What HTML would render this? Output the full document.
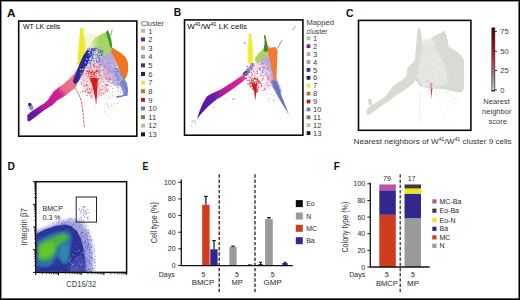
<!DOCTYPE html>
<html><head><meta charset="utf-8">
<style>
html,body{margin:0;padding:0;background:#fff;}
body{width:520px;height:300px;overflow:hidden;position:relative;}
svg{position:absolute;left:0;top:0;display:block;}
text{font-family:"Liberation Sans",sans-serif;}
.pl{font-weight:bold;font-size:11px;fill:#111;}
.t7{font-size:7px;fill:#222;stroke:#222;stroke-width:0.06px;}
.lg{font-size:7.6px;fill:#3a3a3a;}
.ax{font-size:7px;fill:#333;stroke:#333;stroke-width:0.05px;}
</style></head>
<body>
<svg width="520" height="300" viewBox="0 0 520 300">
<defs>
<filter id="bl1" x="-20%" y="-20%" width="140%" height="140%"><feGaussianBlur stdDeviation="0.6"/></filter>
<filter id="bl2" x="-20%" y="-20%" width="140%" height="140%"><feGaussianBlur stdDeviation="1.2"/></filter>
<filter id="bl3" x="-20%" y="-20%" width="140%" height="140%"><feGaussianBlur stdDeviation="2"/></filter>
<linearGradient id="cbar" x1="0" y1="0" x2="0" y2="1">
<stop offset="0" stop-color="#3a0008"/><stop offset="0.12" stop-color="#700010"/><stop offset="0.35" stop-color="#c01028"/><stop offset="0.55" stop-color="#c8406a"/><stop offset="0.75" stop-color="#a88a9c"/><stop offset="1" stop-color="#dcdcdc"/>
</linearGradient>
<linearGradient id="bandA" gradientUnits="userSpaceOnUse" x1="27" y1="121" x2="80" y2="72">
<stop offset="0" stop-color="#581a9c"/><stop offset="0.17" stop-color="#661ea6"/><stop offset="0.3" stop-color="#b01ea0"/><stop offset="0.5" stop-color="#cc1a98"/><stop offset="0.6" stop-color="#d42890"/><stop offset="0.67" stop-color="#ec6a86"/><stop offset="1" stop-color="#f07c8c"/>
</linearGradient>
<linearGradient id="bandB" gradientUnits="userSpaceOnUse" x1="198" y1="118" x2="246" y2="76">
<stop offset="0" stop-color="#52189c"/><stop offset="0.3" stop-color="#5a1aa4"/><stop offset="0.42" stop-color="#6a1ca6"/><stop offset="0.55" stop-color="#b21e9e"/><stop offset="0.7" stop-color="#c81e9a"/><stop offset="0.9" stop-color="#d02a98"/><stop offset="1" stop-color="#e06a98"/>
</linearGradient>
<linearGradient id="lgA" gradientUnits="userSpaceOnUse" x1="88" y1="0" x2="99" y2="0">
<stop offset="0" stop-color="#eef6d8"/><stop offset="0.5" stop-color="#c8e698"/><stop offset="1" stop-color="#a6d65e"/>
</linearGradient>
<linearGradient id="yelA" gradientUnits="userSpaceOnUse" x1="80" y1="0" x2="87" y2="0">
<stop offset="0" stop-color="#ecea24"/><stop offset="0.55" stop-color="#eeec30"/><stop offset="1" stop-color="#f4f4a8"/>
</linearGradient>
</defs>
<rect x="0" y="0" width="520" height="300" fill="#fff"/>

<text x="7" y="16.6" class="pl" textLength="8.5" lengthAdjust="spacingAndGlyphs">A</text>
<g id="Ascat">
<g filter="url(#bl1)">
<polygon points="83,33 96,34 100,44 98,56 90,58 84,50" fill="#f2f6dc" filter="url(#bl2)"/>
<polygon points="80.2,28 83.2,28 84.6,38 86.2,48 86,54 83,60 79,66 77.2,64 78.6,48" fill="url(#yelA)"/>
<polygon points="88,48 92,42 95,37.5 100,35 104,33 107,32 110,40 112,47 110,53 106,58 100,60 96,56 90,52" fill="url(#lgA)"/>
<polygon points="105.8,32 107.6,30 109.6,34 111.4,40 112.2,47 110.6,48.5 108.6,41" fill="#3e9a2e"/>
<polygon points="98,58 106,55 111,51 114,58 117,66 120,73 124,80 124,87 116,86 108,82 100,76 95,66" fill="#b8a6de"/>
<polygon points="114,68 118,68 123,76 127,83 128.2,90 127.5,96 124,96 122,90 119,83 115.5,76" fill="#8490d4"/>
<polygon points="111.5,47 116,50 121,53 125.5,57 127.8,62 128.2,70 127,76 124.5,79.5 121.5,75 118.5,68 115.5,61 111,52" fill="#f07424"/>
<polygon points="27.2,115.3 30.7,111.9 35,109.3 39.3,106.2 44.5,103.2 48,99.7 54,91 59,87 63,84.5 68,80 73,75 78,68 82,63 84,66 80,76 76,87 70,92 64,96.5 57,100.5 52,105.4 49.8,106.7 44.5,110.1 39.3,114 34.1,118 29.8,121 27.6,121.5" fill="url(#bandA)"/>
<polygon points="28,103.5 31,103 33.5,107 33,110.5 30,110 28.5,107" fill="#9a8cc0"/>
<polygon points="87,50 91,48.5 96,48.5 94,53 90,59 86.5,67 82.5,75 78.5,81.5 75,84.5 72.8,81 76,73 79.5,64 83,56" fill="#2a2a9e"/>
</g>
<path d="M28 103.2 L31 103 L31.5 105.5 L28.6 106 Z" fill="#3a2478"/>
<line x1="110.6" y1="36" x2="112.2" y2="29.5" stroke="#909a88" stroke-width="0.9"/>
<polygon points="92,48.5 100,47.5 104,53 100,60 92,70 86,74 88,62" fill="#8a8ad0" opacity="0.5" filter="url(#bl1)"/>
<circle cx="90.8" cy="51.4" r="0.55" fill="#2c2c9c"/>
<circle cx="85.5" cy="62.5" r="0.55" fill="#ffffff"/>
<circle cx="88.5" cy="49.5" r="0.55" fill="#ffffff"/>
<circle cx="96.1" cy="58.5" r="0.55" fill="#4848b0"/>
<circle cx="85.0" cy="71.9" r="0.55" fill="#ffffff"/>
<circle cx="92.8" cy="62.7" r="0.55" fill="#9090d0"/>
<circle cx="90.5" cy="70.7" r="0.55" fill="#4848b0"/>
<circle cx="86.2" cy="63.6" r="0.55" fill="#4848b0"/>
<circle cx="91.8" cy="62.9" r="0.55" fill="#2c2c9c"/>
<circle cx="95.9" cy="65.0" r="0.55" fill="#ffffff"/>
<circle cx="98.3" cy="59.4" r="0.55" fill="#ffffff"/>
<circle cx="91.6" cy="54.2" r="0.55" fill="#4848b0"/>
<circle cx="98.7" cy="54.1" r="0.55" fill="#9090d0"/>
<circle cx="90.3" cy="61.4" r="0.55" fill="#ffffff"/>
<circle cx="99.3" cy="55.4" r="0.55" fill="#2c2c9c"/>
<circle cx="86.5" cy="59.1" r="0.55" fill="#ffffff"/>
<circle cx="87.2" cy="61.2" r="0.55" fill="#2c2c9c"/>
<circle cx="101.2" cy="56.9" r="0.55" fill="#ffffff"/>
<circle cx="96.5" cy="63.8" r="0.55" fill="#ffffff"/>
<circle cx="89.7" cy="67.2" r="0.55" fill="#2c2c9c"/>
<circle cx="85.3" cy="67.3" r="0.55" fill="#9090d0"/>
<circle cx="90.0" cy="58.2" r="0.55" fill="#ffffff"/>
<circle cx="87.5" cy="50.4" r="0.55" fill="#2c2c9c"/>
<circle cx="88.6" cy="55.3" r="0.55" fill="#4848b0"/>
<circle cx="94.4" cy="51.8" r="0.55" fill="#ffffff"/>
<circle cx="89.8" cy="59.0" r="0.55" fill="#ffffff"/>
<circle cx="98.3" cy="58.0" r="0.55" fill="#4848b0"/>
<circle cx="87.2" cy="52.1" r="0.55" fill="#4848b0"/>
<circle cx="97.8" cy="47.3" r="0.55" fill="#9090d0"/>
<circle cx="87.8" cy="55.2" r="0.55" fill="#4848b0"/>
<circle cx="92.8" cy="57.7" r="0.55" fill="#9090d0"/>
<circle cx="90.7" cy="50.6" r="0.55" fill="#9090d0"/>
<circle cx="99.5" cy="60.2" r="0.55" fill="#9090d0"/>
<circle cx="92.2" cy="58.6" r="0.55" fill="#2c2c9c"/>
<circle cx="94.1" cy="58.6" r="0.55" fill="#4848b0"/>
<circle cx="87.4" cy="56.9" r="0.55" fill="#2c2c9c"/>
<circle cx="86.1" cy="63.4" r="0.55" fill="#9090d0"/>
<circle cx="86.1" cy="57.5" r="0.55" fill="#2c2c9c"/>
<circle cx="91.9" cy="65.4" r="0.55" fill="#ffffff"/>
<circle cx="96.6" cy="60.8" r="0.55" fill="#2c2c9c"/>
<circle cx="93.8" cy="61.0" r="0.55" fill="#2c2c9c"/>
<circle cx="87.0" cy="68.7" r="0.55" fill="#ffffff"/>
<circle cx="94.1" cy="67.1" r="0.55" fill="#9090d0"/>
<circle cx="95.1" cy="51.3" r="0.55" fill="#9090d0"/>
<circle cx="90.3" cy="65.6" r="0.55" fill="#2c2c9c"/>
<circle cx="98.6" cy="54.6" r="0.55" fill="#ffffff"/>
<circle cx="88.7" cy="62.7" r="0.55" fill="#9090d0"/>
<circle cx="90.9" cy="53.5" r="0.55" fill="#4848b0"/>
<circle cx="99.5" cy="53.6" r="0.55" fill="#9090d0"/>
<circle cx="94.3" cy="68.2" r="0.55" fill="#2c2c9c"/>
<circle cx="88.1" cy="64.5" r="0.55" fill="#ffffff"/>
<circle cx="91.7" cy="53.4" r="0.55" fill="#4848b0"/>
<circle cx="93.9" cy="56.8" r="0.55" fill="#ffffff"/>
<circle cx="85.8" cy="66.2" r="0.55" fill="#ffffff"/>
<circle cx="94.0" cy="52.2" r="0.55" fill="#ffffff"/>
<circle cx="99.2" cy="60.4" r="0.55" fill="#2c2c9c"/>
<circle cx="99.2" cy="51.9" r="0.55" fill="#4848b0"/>
<circle cx="93.8" cy="66.0" r="0.55" fill="#9090d0"/>
<circle cx="97.8" cy="57.2" r="0.55" fill="#9090d0"/>
<circle cx="95.5" cy="47.6" r="0.55" fill="#2c2c9c"/>
<circle cx="101.3" cy="53.1" r="0.55" fill="#ffffff"/>
<circle cx="88.5" cy="61.5" r="0.55" fill="#9090d0"/>
<circle cx="90.8" cy="62.8" r="0.55" fill="#4848b0"/>
<circle cx="85.3" cy="68.5" r="0.55" fill="#ffffff"/>
<circle cx="102.4" cy="50.8" r="0.55" fill="#4848b0"/>
<circle cx="95.0" cy="47.5" r="0.55" fill="#ffffff"/>
<circle cx="100.3" cy="51.3" r="0.55" fill="#4848b0"/>
<circle cx="93.9" cy="68.0" r="0.55" fill="#9090d0"/>
<circle cx="85.3" cy="66.8" r="0.55" fill="#9090d0"/>
<circle cx="86.2" cy="63.2" r="0.55" fill="#4848b0"/>
<circle cx="88.0" cy="48.2" r="0.55" fill="#2c2c9c"/>
<circle cx="94.7" cy="63.3" r="0.55" fill="#2c2c9c"/>
<circle cx="93.3" cy="64.8" r="0.55" fill="#9090d0"/>
<circle cx="96.7" cy="52.8" r="0.55" fill="#ffffff"/>
<circle cx="93.5" cy="62.5" r="0.55" fill="#ffffff"/>
<circle cx="94.7" cy="54.2" r="0.55" fill="#9090d0"/>
<circle cx="89.5" cy="63.2" r="0.55" fill="#4848b0"/>
<circle cx="101.6" cy="51.0" r="0.55" fill="#2c2c9c"/>
<circle cx="92.2" cy="56.2" r="0.55" fill="#4848b0"/>
<circle cx="93.0" cy="53.2" r="0.55" fill="#ffffff"/>
<circle cx="87.2" cy="67.8" r="0.55" fill="#ffffff"/>
<circle cx="87.0" cy="72.6" r="0.55" fill="#ffffff"/>
<circle cx="88.6" cy="74.6" r="0.55" fill="#ffffff"/>
<circle cx="102.6" cy="51.7" r="0.55" fill="#4848b0"/>
<circle cx="87.4" cy="59.5" r="0.55" fill="#9090d0"/>
<circle cx="92.5" cy="59.2" r="0.55" fill="#ffffff"/>
<circle cx="90.7" cy="67.9" r="0.55" fill="#2c2c9c"/>
<circle cx="91.1" cy="60.3" r="0.55" fill="#2c2c9c"/>
<circle cx="92.1" cy="62.0" r="0.55" fill="#ffffff"/>
<circle cx="94.8" cy="48.9" r="0.55" fill="#4848b0"/>
<circle cx="89.6" cy="48.1" r="0.55" fill="#4848b0"/>
<circle cx="89.7" cy="50.8" r="0.55" fill="#ffffff"/>
<circle cx="95.3" cy="61.9" r="0.55" fill="#ffffff"/>
<circle cx="98.7" cy="49.6" r="0.55" fill="#2c2c9c"/>
<circle cx="100.8" cy="52.3" r="0.55" fill="#2c2c9c"/>
<circle cx="96.8" cy="53.4" r="0.55" fill="#ffffff"/>
<circle cx="91.1" cy="63.0" r="0.55" fill="#ffffff"/>
<circle cx="97.1" cy="48.3" r="0.55" fill="#4848b0"/>
<circle cx="89.5" cy="52.3" r="0.55" fill="#ffffff"/>
<circle cx="97.2" cy="62.4" r="0.55" fill="#4848b0"/>
<circle cx="90.1" cy="61.5" r="0.55" fill="#4848b0"/>
<circle cx="89.7" cy="70.3" r="0.55" fill="#ffffff"/>
<circle cx="94.8" cy="54.1" r="0.55" fill="#ffffff"/>
<circle cx="86.2" cy="70.7" r="0.55" fill="#ffffff"/>
<circle cx="97.8" cy="62.8" r="0.55" fill="#ffffff"/>
<circle cx="88.5" cy="53.7" r="0.55" fill="#4848b0"/>
<circle cx="97.4" cy="58.7" r="0.55" fill="#ffffff"/>
<circle cx="85.2" cy="66.3" r="0.55" fill="#ffffff"/>
<circle cx="89.9" cy="54.0" r="0.55" fill="#ffffff"/>
<circle cx="91.6" cy="56.5" r="0.55" fill="#9090d0"/>
<circle cx="90.8" cy="48.0" r="0.55" fill="#ffffff"/>
<circle cx="88.6" cy="52.3" r="0.55" fill="#ffffff"/>
<circle cx="92.0" cy="60.8" r="0.55" fill="#9090d0"/>
<circle cx="97.8" cy="54.2" r="0.55" fill="#2c2c9c"/>
<circle cx="85.9" cy="70.7" r="0.55" fill="#4848b0"/>
<circle cx="92.4" cy="48.2" r="0.55" fill="#2c2c9c"/>
<circle cx="90.3" cy="65.3" r="0.55" fill="#2c2c9c"/>
<circle cx="96.3" cy="62.3" r="0.55" fill="#4848b0"/>
<circle cx="87.1" cy="68.0" r="0.55" fill="#4848b0"/>
<circle cx="84.9" cy="71.2" r="0.55" fill="#9090d0"/>
<circle cx="101.1" cy="51.0" r="0.55" fill="#9090d0"/>
<circle cx="101.1" cy="47.5" r="0.55" fill="#9090d0"/>
<circle cx="91.9" cy="60.1" r="0.55" fill="#2c2c9c"/>
<circle cx="98.3" cy="61.2" r="0.55" fill="#2c2c9c"/>
<circle cx="93.6" cy="49.0" r="0.55" fill="#9090d0"/>
<circle cx="101.8" cy="53.8" r="0.55" fill="#4848b0"/>
<circle cx="88.8" cy="65.8" r="0.55" fill="#ffffff"/>
<circle cx="94.4" cy="58.1" r="0.55" fill="#ffffff"/>
<circle cx="103.1" cy="55.3" r="0.55" fill="#2c2c9c"/>
<circle cx="89.3" cy="68.6" r="0.55" fill="#ffffff"/>
<circle cx="97.0" cy="50.9" r="0.55" fill="#ffffff"/>
<circle cx="98.2" cy="55.4" r="0.55" fill="#9090d0"/>
<circle cx="90.0" cy="60.5" r="0.55" fill="#2c2c9c"/>
<circle cx="90.5" cy="49.5" r="0.55" fill="#ffffff"/>
<circle cx="93.4" cy="54.8" r="0.55" fill="#4848b0"/>
<circle cx="99.7" cy="54.6" r="0.55" fill="#ffffff"/>
<circle cx="86.8" cy="70.8" r="0.55" fill="#9090d0"/>
<circle cx="89.9" cy="50.3" r="0.55" fill="#ffffff"/>
<circle cx="88.9" cy="73.0" r="0.55" fill="#ffffff"/>
<circle cx="92.3" cy="51.6" r="0.55" fill="#ffffff"/>
<circle cx="98.3" cy="58.8" r="0.55" fill="#4848b0"/>
<circle cx="92.7" cy="57.9" r="0.55" fill="#2c2c9c"/>
<circle cx="86.5" cy="73.9" r="0.55" fill="#2c2c9c"/>
<circle cx="102.9" cy="55.4" r="0.55" fill="#ffffff"/>
<circle cx="101.9" cy="55.1" r="0.55" fill="#2c2c9c"/>
<circle cx="101.5" cy="55.3" r="0.55" fill="#4848b0"/>
<circle cx="89.2" cy="54.7" r="0.55" fill="#9090d0"/>
<circle cx="90.6" cy="69.4" r="0.55" fill="#ffffff"/>
<circle cx="99.1" cy="48.4" r="0.55" fill="#ffffff"/>
<circle cx="93.5" cy="68.8" r="0.55" fill="#ffffff"/>
<polygon points="84,70 96,62 108,70 112,84 104,94 92,98 82,90 80,80" fill="#f2c8cc" opacity="0.6" filter="url(#bl2)"/>
<circle cx="94.6" cy="96.5" r="0.55" fill="#f4b0b0"/>
<circle cx="83.8" cy="78.9" r="0.55" fill="#ffffff"/>
<circle cx="88.5" cy="70.2" r="0.55" fill="#c0b0e0"/>
<circle cx="99.7" cy="72.0" r="0.55" fill="#f4b0b0"/>
<circle cx="100.1" cy="64.8" r="0.55" fill="#c0b0e0"/>
<circle cx="84.8" cy="68.3" r="0.55" fill="#e04848"/>
<circle cx="94.9" cy="68.8" r="0.55" fill="#ffffff"/>
<circle cx="109.9" cy="78.0" r="0.55" fill="#e86a6a"/>
<circle cx="96.4" cy="69.8" r="0.55" fill="#e86a6a"/>
<circle cx="90.3" cy="63.6" r="0.55" fill="#e86a6a"/>
<circle cx="91.0" cy="92.4" r="0.55" fill="#e86a6a"/>
<circle cx="106.6" cy="90.0" r="0.55" fill="#ffffff"/>
<circle cx="91.5" cy="89.8" r="0.55" fill="#e86a6a"/>
<circle cx="91.3" cy="73.5" r="0.55" fill="#d83030"/>
<circle cx="94.9" cy="83.0" r="0.55" fill="#ffffff"/>
<circle cx="83.8" cy="80.1" r="0.55" fill="#c0b0e0"/>
<circle cx="103.7" cy="93.9" r="0.55" fill="#d83030"/>
<circle cx="88.1" cy="69.9" r="0.55" fill="#ffffff"/>
<circle cx="99.4" cy="77.3" r="0.55" fill="#ffffff"/>
<circle cx="101.3" cy="95.8" r="0.55" fill="#ffffff"/>
<circle cx="109.0" cy="79.6" r="0.55" fill="#d83030"/>
<circle cx="91.7" cy="97.1" r="0.55" fill="#e04848"/>
<circle cx="95.8" cy="78.7" r="0.55" fill="#ffffff"/>
<circle cx="84.6" cy="80.9" r="0.55" fill="#c0b0e0"/>
<circle cx="83.3" cy="93.0" r="0.55" fill="#c0b0e0"/>
<circle cx="99.4" cy="90.6" r="0.55" fill="#ffffff"/>
<circle cx="82.6" cy="91.1" r="0.55" fill="#d83030"/>
<circle cx="103.5" cy="69.3" r="0.55" fill="#d83030"/>
<circle cx="99.4" cy="72.2" r="0.55" fill="#e86a6a"/>
<circle cx="98.8" cy="81.1" r="0.55" fill="#ffffff"/>
<circle cx="101.0" cy="64.5" r="0.55" fill="#d83030"/>
<circle cx="85.8" cy="70.4" r="0.55" fill="#e04848"/>
<circle cx="98.0" cy="60.4" r="0.55" fill="#ffffff"/>
<circle cx="89.5" cy="93.6" r="0.55" fill="#e86a6a"/>
<circle cx="94.3" cy="69.4" r="0.55" fill="#e86a6a"/>
<circle cx="80.9" cy="76.5" r="0.55" fill="#c0b0e0"/>
<circle cx="94.9" cy="87.0" r="0.55" fill="#ffffff"/>
<circle cx="82.4" cy="69.1" r="0.55" fill="#ffffff"/>
<circle cx="81.0" cy="73.5" r="0.55" fill="#ffffff"/>
<circle cx="90.9" cy="75.9" r="0.55" fill="#d83030"/>
<circle cx="103.9" cy="89.6" r="0.55" fill="#f4b0b0"/>
<circle cx="82.0" cy="79.8" r="0.55" fill="#e86a6a"/>
<circle cx="89.4" cy="92.8" r="0.55" fill="#e86a6a"/>
<circle cx="94.0" cy="70.6" r="0.55" fill="#ffffff"/>
<circle cx="83.3" cy="84.9" r="0.55" fill="#f4b0b0"/>
<circle cx="85.6" cy="68.9" r="0.55" fill="#ffffff"/>
<circle cx="97.8" cy="96.9" r="0.55" fill="#d83030"/>
<circle cx="81.8" cy="75.7" r="0.55" fill="#c0b0e0"/>
<circle cx="106.5" cy="89.3" r="0.55" fill="#d83030"/>
<circle cx="107.9" cy="73.2" r="0.55" fill="#e86a6a"/>
<circle cx="99.6" cy="81.0" r="0.55" fill="#ffffff"/>
<circle cx="81.0" cy="86.6" r="0.55" fill="#ffffff"/>
<circle cx="93.3" cy="64.4" r="0.55" fill="#d83030"/>
<circle cx="88.4" cy="74.1" r="0.55" fill="#d83030"/>
<circle cx="96.8" cy="90.4" r="0.55" fill="#ffffff"/>
<circle cx="90.7" cy="92.9" r="0.55" fill="#e04848"/>
<circle cx="101.2" cy="67.8" r="0.55" fill="#f4b0b0"/>
<circle cx="90.9" cy="95.9" r="0.55" fill="#d83030"/>
<circle cx="98.9" cy="69.9" r="0.55" fill="#c0b0e0"/>
<circle cx="107.6" cy="70.3" r="0.55" fill="#c0b0e0"/>
<circle cx="81.9" cy="84.2" r="0.55" fill="#ffffff"/>
<circle cx="98.5" cy="70.5" r="0.55" fill="#c0b0e0"/>
<circle cx="88.9" cy="88.9" r="0.55" fill="#f4b0b0"/>
<circle cx="107.5" cy="85.4" r="0.55" fill="#d83030"/>
<circle cx="80.7" cy="69.4" r="0.55" fill="#ffffff"/>
<circle cx="101.5" cy="78.6" r="0.55" fill="#e04848"/>
<circle cx="91.6" cy="70.0" r="0.55" fill="#ffffff"/>
<circle cx="107.9" cy="72.1" r="0.55" fill="#c0b0e0"/>
<circle cx="103.2" cy="84.3" r="0.55" fill="#ffffff"/>
<circle cx="105.8" cy="78.4" r="0.55" fill="#e04848"/>
<circle cx="85.9" cy="90.1" r="0.55" fill="#e86a6a"/>
<circle cx="92.2" cy="86.0" r="0.55" fill="#ffffff"/>
<circle cx="96.6" cy="73.0" r="0.55" fill="#ffffff"/>
<circle cx="82.9" cy="79.9" r="0.55" fill="#c0b0e0"/>
<circle cx="84.0" cy="78.4" r="0.55" fill="#c0b0e0"/>
<circle cx="87.0" cy="81.5" r="0.55" fill="#e04848"/>
<circle cx="99.9" cy="64.8" r="0.55" fill="#e04848"/>
<circle cx="88.8" cy="71.2" r="0.55" fill="#ffffff"/>
<circle cx="91.2" cy="89.5" r="0.55" fill="#e86a6a"/>
<circle cx="93.2" cy="67.4" r="0.55" fill="#e86a6a"/>
<circle cx="97.3" cy="73.1" r="0.55" fill="#ffffff"/>
<circle cx="87.5" cy="69.8" r="0.55" fill="#f4b0b0"/>
<circle cx="86.9" cy="92.3" r="0.55" fill="#c0b0e0"/>
<circle cx="86.9" cy="77.9" r="0.55" fill="#ffffff"/>
<circle cx="81.2" cy="71.7" r="0.55" fill="#d83030"/>
<circle cx="81.5" cy="84.0" r="0.55" fill="#e04848"/>
<circle cx="97.5" cy="97.2" r="0.55" fill="#ffffff"/>
<circle cx="95.4" cy="67.1" r="0.55" fill="#f4b0b0"/>
<circle cx="87.8" cy="91.1" r="0.55" fill="#d83030"/>
<circle cx="83.2" cy="83.8" r="0.55" fill="#f4b0b0"/>
<circle cx="104.4" cy="92.8" r="0.55" fill="#ffffff"/>
<circle cx="100.3" cy="67.4" r="0.55" fill="#ffffff"/>
<circle cx="94.9" cy="79.3" r="0.55" fill="#ffffff"/>
<circle cx="83.0" cy="75.8" r="0.55" fill="#f4b0b0"/>
<circle cx="84.6" cy="81.4" r="0.55" fill="#c0b0e0"/>
<circle cx="84.9" cy="87.8" r="0.55" fill="#ffffff"/>
<circle cx="109.6" cy="86.7" r="0.55" fill="#ffffff"/>
<circle cx="108.6" cy="72.5" r="0.55" fill="#f4b0b0"/>
<circle cx="106.5" cy="76.6" r="0.55" fill="#d83030"/>
<circle cx="90.9" cy="67.9" r="0.55" fill="#c0b0e0"/>
<circle cx="92.1" cy="97.7" r="0.55" fill="#ffffff"/>
<circle cx="107.0" cy="77.0" r="0.55" fill="#e04848"/>
<circle cx="82.7" cy="83.1" r="0.55" fill="#ffffff"/>
<circle cx="93.8" cy="66.5" r="0.55" fill="#d83030"/>
<circle cx="104.2" cy="75.9" r="0.55" fill="#f4b0b0"/>
<circle cx="98.7" cy="74.8" r="0.55" fill="#f4b0b0"/>
<circle cx="85.2" cy="73.9" r="0.55" fill="#e86a6a"/>
<circle cx="95.6" cy="97.0" r="0.55" fill="#d83030"/>
<circle cx="91.5" cy="90.1" r="0.55" fill="#e04848"/>
<circle cx="109.3" cy="79.3" r="0.55" fill="#d83030"/>
<circle cx="98.2" cy="85.5" r="0.55" fill="#d83030"/>
<circle cx="107.1" cy="84.8" r="0.55" fill="#e04848"/>
<circle cx="106.7" cy="85.6" r="0.55" fill="#e04848"/>
<circle cx="86.7" cy="76.2" r="0.55" fill="#e04848"/>
<circle cx="85.9" cy="78.9" r="0.55" fill="#f4b0b0"/>
<circle cx="86.5" cy="76.0" r="0.55" fill="#f4b0b0"/>
<circle cx="84.7" cy="74.4" r="0.55" fill="#e86a6a"/>
<circle cx="87.4" cy="89.0" r="0.55" fill="#e86a6a"/>
<circle cx="81.2" cy="82.5" r="0.55" fill="#e04848"/>
<circle cx="100.2" cy="86.7" r="0.55" fill="#ffffff"/>
<circle cx="83.5" cy="84.0" r="0.55" fill="#f4b0b0"/>
<circle cx="105.5" cy="91.1" r="0.55" fill="#c0b0e0"/>
<circle cx="92.6" cy="83.3" r="0.55" fill="#ffffff"/>
<circle cx="91.7" cy="74.7" r="0.55" fill="#f4b0b0"/>
<circle cx="98.6" cy="79.6" r="0.55" fill="#e86a6a"/>
<circle cx="93.4" cy="84.7" r="0.55" fill="#e04848"/>
<circle cx="93.7" cy="67.2" r="0.55" fill="#ffffff"/>
<circle cx="92.0" cy="62.7" r="0.55" fill="#ffffff"/>
<circle cx="92.9" cy="63.7" r="0.55" fill="#ffffff"/>
<circle cx="95.1" cy="86.3" r="0.55" fill="#d83030"/>
<circle cx="99.1" cy="63.3" r="0.55" fill="#c0b0e0"/>
<circle cx="89.4" cy="88.8" r="0.55" fill="#d83030"/>
<circle cx="81.6" cy="80.2" r="0.55" fill="#ffffff"/>
<circle cx="99.6" cy="91.4" r="0.55" fill="#d83030"/>
<circle cx="102.0" cy="92.6" r="0.55" fill="#e86a6a"/>
<circle cx="88.6" cy="92.4" r="0.55" fill="#e04848"/>
<circle cx="85.0" cy="91.5" r="0.55" fill="#e86a6a"/>
<circle cx="82.0" cy="74.0" r="0.55" fill="#e04848"/>
<circle cx="87.6" cy="73.0" r="0.55" fill="#f4b0b0"/>
<circle cx="88.2" cy="92.6" r="0.55" fill="#e86a6a"/>
<circle cx="94.4" cy="83.7" r="0.55" fill="#f4b0b0"/>
<circle cx="95.2" cy="72.8" r="0.55" fill="#d83030"/>
<circle cx="86.0" cy="76.1" r="0.55" fill="#c0b0e0"/>
<circle cx="108.1" cy="87.2" r="0.55" fill="#ffffff"/>
<circle cx="85.1" cy="91.4" r="0.55" fill="#d83030"/>
<circle cx="93.6" cy="80.9" r="0.55" fill="#c0b0e0"/>
<circle cx="109.8" cy="85.2" r="0.55" fill="#ffffff"/>
<circle cx="102.1" cy="74.9" r="0.55" fill="#ffffff"/>
<circle cx="109.7" cy="83.1" r="0.55" fill="#ffffff"/>
<circle cx="86.9" cy="84.6" r="0.55" fill="#d83030"/>
<circle cx="88.9" cy="80.6" r="0.55" fill="#ffffff"/>
<circle cx="97.6" cy="86.5" r="0.55" fill="#ffffff"/>
<circle cx="102.0" cy="89.9" r="0.55" fill="#e86a6a"/>
<circle cx="84.5" cy="84.6" r="0.55" fill="#ffffff"/>
<circle cx="92.5" cy="74.6" r="0.55" fill="#d83030"/>
<circle cx="84.0" cy="69.1" r="0.55" fill="#c0b0e0"/>
<circle cx="97.0" cy="72.1" r="0.55" fill="#f4b0b0"/>
<circle cx="90.7" cy="69.0" r="0.55" fill="#f4b0b0"/>
<circle cx="89.0" cy="65.3" r="0.55" fill="#ffffff"/>
<circle cx="98.7" cy="79.0" r="0.55" fill="#e86a6a"/>
<circle cx="80.4" cy="92.1" r="0.55" fill="#c0b0e0"/>
<circle cx="99.1" cy="94.9" r="0.55" fill="#e04848"/>
<circle cx="88.1" cy="92.5" r="0.55" fill="#d83030"/>
<circle cx="81.7" cy="92.8" r="0.55" fill="#ffffff"/>
<circle cx="97.8" cy="83.1" r="0.55" fill="#f4b0b0"/>
<circle cx="108.1" cy="89.3" r="0.55" fill="#e86a6a"/>
<circle cx="85.6" cy="66.4" r="0.55" fill="#e04848"/>
<circle cx="83.1" cy="84.5" r="0.55" fill="#c0b0e0"/>
<circle cx="86.0" cy="84.3" r="0.55" fill="#f4b0b0"/>
<circle cx="99.4" cy="76.6" r="0.55" fill="#f4b0b0"/>
<circle cx="85.2" cy="72.4" r="0.55" fill="#ffffff"/>
<circle cx="101.7" cy="79.1" r="0.55" fill="#f4b0b0"/>
<circle cx="102.4" cy="78.6" r="0.55" fill="#c0b0e0"/>
<circle cx="99.7" cy="67.0" r="0.55" fill="#d83030"/>
<circle cx="87.8" cy="85.8" r="0.55" fill="#d83030"/>
<circle cx="90.1" cy="90.0" r="0.55" fill="#c0b0e0"/>
<circle cx="108.3" cy="70.5" r="0.55" fill="#d83030"/>
<circle cx="88.0" cy="82.2" r="0.55" fill="#ffffff"/>
<circle cx="100.6" cy="96.7" r="0.55" fill="#ffffff"/>
<circle cx="95.2" cy="66.8" r="0.55" fill="#e86a6a"/>
<circle cx="105.3" cy="68.1" r="0.55" fill="#e86a6a"/>
<circle cx="102.4" cy="73.1" r="0.55" fill="#ffffff"/>
<circle cx="89.9" cy="69.6" r="0.55" fill="#e04848"/>
<circle cx="98.9" cy="87.7" r="0.55" fill="#c0b0e0"/>
<circle cx="105.2" cy="81.5" r="0.55" fill="#ffffff"/>
<circle cx="105.2" cy="87.9" r="0.55" fill="#e04848"/>
<circle cx="87.0" cy="95.4" r="0.55" fill="#e04848"/>
<circle cx="86.4" cy="84.9" r="0.55" fill="#d83030"/>
<circle cx="97.0" cy="66.9" r="0.55" fill="#d83030"/>
<circle cx="107.9" cy="73.8" r="0.55" fill="#e86a6a"/>
<circle cx="84.2" cy="85.7" r="0.55" fill="#d83030"/>
<circle cx="100.9" cy="89.5" r="0.55" fill="#d83030"/>
<circle cx="105.7" cy="90.5" r="0.55" fill="#e86a6a"/>
<circle cx="104.5" cy="92.8" r="0.55" fill="#c0b0e0"/>
<circle cx="83.2" cy="68.2" r="0.55" fill="#d83030"/>
<circle cx="107.3" cy="90.2" r="0.55" fill="#d83030"/>
<circle cx="104.8" cy="85.3" r="0.55" fill="#ffffff"/>
<circle cx="94.3" cy="65.3" r="0.55" fill="#e04848"/>
<circle cx="102.7" cy="68.2" r="0.55" fill="#ffffff"/>
<circle cx="90.1" cy="70.4" r="0.55" fill="#ffffff"/>
<circle cx="87.7" cy="71.3" r="0.55" fill="#c0b0e0"/>
<circle cx="103.1" cy="84.1" r="0.55" fill="#ffffff"/>
<circle cx="105.5" cy="84.7" r="0.55" fill="#d83030"/>
<circle cx="95.6" cy="63.9" r="0.55" fill="#ffffff"/>
<circle cx="101.1" cy="81.5" r="0.55" fill="#e86a6a"/>
<circle cx="101.4" cy="93.1" r="0.55" fill="#f4b0b0"/>
<circle cx="104.6" cy="66.8" r="0.55" fill="#d83030"/>
<circle cx="95.7" cy="71.5" r="0.55" fill="#e04848"/>
<circle cx="94.7" cy="79.7" r="0.55" fill="#e04848"/>
<circle cx="95.5" cy="83.1" r="0.55" fill="#e86a6a"/>
<circle cx="88.5" cy="68.6" r="0.55" fill="#c0b0e0"/>
<circle cx="86.9" cy="66.6" r="0.55" fill="#c0b0e0"/>
<circle cx="103.0" cy="79.6" r="0.55" fill="#c0b0e0"/>
<circle cx="96.8" cy="64.2" r="0.55" fill="#ffffff"/>
<circle cx="90.7" cy="76.1" r="0.55" fill="#ffffff"/>
<circle cx="106.8" cy="89.8" r="0.55" fill="#ffffff"/>
<circle cx="86.2" cy="70.5" r="0.55" fill="#f4b0b0"/>
<circle cx="95.0" cy="75.2" r="0.55" fill="#c0b0e0"/>
<circle cx="87.0" cy="78.4" r="0.55" fill="#f4b0b0"/>
<circle cx="97.8" cy="87.6" r="0.55" fill="#f4b0b0"/>
<circle cx="99.4" cy="73.9" r="0.55" fill="#ffffff"/>
<circle cx="95.7" cy="94.7" r="0.55" fill="#ffffff"/>
<circle cx="99.9" cy="89.7" r="0.55" fill="#e86a6a"/>
<circle cx="93.9" cy="87.6" r="0.55" fill="#ffffff"/>
<circle cx="97.4" cy="65.0" r="0.55" fill="#ffffff"/>
<circle cx="99.3" cy="87.9" r="0.55" fill="#f4b0b0"/>
<circle cx="85.7" cy="72.1" r="0.55" fill="#c0b0e0"/>
<circle cx="104.8" cy="84.7" r="0.55" fill="#c0b0e0"/>
<circle cx="84.7" cy="69.9" r="0.55" fill="#ffffff"/>
<circle cx="98.1" cy="73.9" r="0.55" fill="#e86a6a"/>
<circle cx="89.8" cy="67.6" r="0.55" fill="#c0b0e0"/>
<circle cx="99.7" cy="67.8" r="0.55" fill="#e86a6a"/>
<circle cx="109.5" cy="91.8" r="0.55" fill="#c0b0e0"/>
<circle cx="88.9" cy="71.0" r="0.55" fill="#d83030"/>
<circle cx="99.1" cy="64.3" r="0.55" fill="#e86a6a"/>
<circle cx="106.6" cy="78.6" r="0.55" fill="#d83030"/>
<circle cx="92.0" cy="91.6" r="0.55" fill="#c0b0e0"/>
<circle cx="87.7" cy="89.5" r="0.55" fill="#d83030"/>
<circle cx="92.9" cy="83.0" r="0.55" fill="#c0b0e0"/>
<circle cx="99.4" cy="93.8" r="0.55" fill="#c0b0e0"/>
<circle cx="101.7" cy="95.2" r="0.55" fill="#e04848"/>
<circle cx="99.3" cy="83.4" r="0.55" fill="#e86a6a"/>
<circle cx="100.4" cy="85.7" r="0.55" fill="#ffffff"/>
<circle cx="93.0" cy="70.4" r="0.55" fill="#c0b0e0"/>
<circle cx="82.9" cy="76.8" r="0.55" fill="#e04848"/>
<circle cx="92.0" cy="88.5" r="0.55" fill="#e86a6a"/>
<circle cx="87.5" cy="76.9" r="0.55" fill="#ffffff"/>
<circle cx="95.5" cy="86.4" r="0.55" fill="#e04848"/>
<circle cx="85.5" cy="86.2" r="0.55" fill="#e04848"/>
<circle cx="87.5" cy="68.7" r="0.55" fill="#c0b0e0"/>
<circle cx="95.6" cy="64.0" r="0.55" fill="#f4b0b0"/>
<circle cx="93.7" cy="68.2" r="0.55" fill="#ffffff"/>
<circle cx="95.4" cy="85.6" r="0.55" fill="#e04848"/>
<circle cx="91.1" cy="73.7" r="0.55" fill="#c0b0e0"/>
<circle cx="100.5" cy="75.7" r="0.55" fill="#e04848"/>
<circle cx="108.0" cy="89.2" r="0.55" fill="#f4b0b0"/>
<circle cx="88.2" cy="76.0" r="0.55" fill="#d83030"/>
<circle cx="98.9" cy="87.0" r="0.55" fill="#f4b0b0"/>
<circle cx="88.0" cy="69.0" r="0.55" fill="#c0b0e0"/>
<circle cx="92.0" cy="98.1" r="0.55" fill="#e86a6a"/>
<circle cx="93.9" cy="66.6" r="0.55" fill="#e04848"/>
<circle cx="82.1" cy="91.9" r="0.55" fill="#e86a6a"/>
<circle cx="94.1" cy="82.5" r="0.55" fill="#e86a6a"/>
<circle cx="100.0" cy="93.2" r="0.55" fill="#e04848"/>
<circle cx="104.5" cy="78.7" r="0.55" fill="#ffffff"/>
<circle cx="102.8" cy="86.0" r="0.55" fill="#e04848"/>
<circle cx="105.0" cy="74.2" r="0.55" fill="#e04848"/>
<circle cx="86.9" cy="88.2" r="0.55" fill="#c0b0e0"/>
<circle cx="87.6" cy="77.0" r="0.55" fill="#e86a6a"/>
<circle cx="94.4" cy="92.2" r="0.55" fill="#e04848"/>
<circle cx="88.4" cy="69.8" r="0.55" fill="#ffffff"/>
<circle cx="89.6" cy="79.4" r="0.55" fill="#f4b0b0"/>
<circle cx="99.1" cy="86.4" r="0.55" fill="#ffffff"/>
<circle cx="84.6" cy="72.1" r="0.55" fill="#ffffff"/>
<circle cx="107.2" cy="91.4" r="0.55" fill="#e86a6a"/>
<circle cx="95.9" cy="73.8" r="0.55" fill="#f4b0b0"/>
<circle cx="108.6" cy="86.2" r="0.55" fill="#ffffff"/>
<circle cx="98.2" cy="83.1" r="0.55" fill="#e04848"/>
<circle cx="87.0" cy="91.1" r="0.55" fill="#ffffff"/>
<circle cx="103.5" cy="68.3" r="0.55" fill="#ffffff"/>
<circle cx="121.4" cy="77.0" r="0.55" fill="#ffffff"/>
<circle cx="116.0" cy="85.0" r="0.55" fill="#9890d0"/>
<circle cx="116.6" cy="74.9" r="0.55" fill="#9890d0"/>
<circle cx="120.1" cy="78.8" r="0.55" fill="#ffffff"/>
<circle cx="113.3" cy="67.4" r="0.55" fill="#ffffff"/>
<circle cx="119.8" cy="73.3" r="0.55" fill="#9890d0"/>
<circle cx="101.4" cy="73.1" r="0.55" fill="#ffffff"/>
<circle cx="116.8" cy="66.9" r="0.55" fill="#ffffff"/>
<circle cx="112.9" cy="84.2" r="0.55" fill="#ffffff"/>
<circle cx="103.8" cy="69.0" r="0.55" fill="#9890d0"/>
<circle cx="113.5" cy="78.6" r="0.55" fill="#d8d0f0"/>
<circle cx="109.0" cy="71.7" r="0.55" fill="#9890d0"/>
<circle cx="101.8" cy="77.8" r="0.55" fill="#9890d0"/>
<circle cx="101.1" cy="80.6" r="0.55" fill="#d8d0f0"/>
<circle cx="111.6" cy="81.2" r="0.55" fill="#ffffff"/>
<circle cx="100.8" cy="80.1" r="0.55" fill="#9890d0"/>
<circle cx="103.0" cy="62.6" r="0.55" fill="#9890d0"/>
<circle cx="108.8" cy="73.3" r="0.55" fill="#9890d0"/>
<circle cx="113.3" cy="85.5" r="0.55" fill="#d8d0f0"/>
<circle cx="110.4" cy="71.8" r="0.55" fill="#9890d0"/>
<circle cx="101.3" cy="68.1" r="0.55" fill="#d8d0f0"/>
<circle cx="112.1" cy="67.6" r="0.55" fill="#9890d0"/>
<circle cx="108.3" cy="65.7" r="0.55" fill="#d8d0f0"/>
<circle cx="107.6" cy="68.4" r="0.55" fill="#9890d0"/>
<circle cx="113.3" cy="71.4" r="0.55" fill="#9890d0"/>
<circle cx="101.2" cy="68.4" r="0.55" fill="#ffffff"/>
<circle cx="111.4" cy="81.4" r="0.55" fill="#ffffff"/>
<circle cx="114.7" cy="77.3" r="0.55" fill="#9890d0"/>
<circle cx="116.2" cy="79.3" r="0.55" fill="#9890d0"/>
<circle cx="102.0" cy="61.1" r="0.55" fill="#9890d0"/>
<circle cx="111.0" cy="81.4" r="0.55" fill="#ffffff"/>
<circle cx="115.9" cy="84.3" r="0.55" fill="#d8d0f0"/>
<circle cx="115.7" cy="70.3" r="0.55" fill="#ffffff"/>
<circle cx="118.9" cy="75.7" r="0.55" fill="#d8d0f0"/>
<circle cx="100.8" cy="60.6" r="0.55" fill="#9890d0"/>
<circle cx="115.4" cy="86.1" r="0.55" fill="#ffffff"/>
<circle cx="111.9" cy="74.6" r="0.55" fill="#ffffff"/>
<circle cx="118.6" cy="71.8" r="0.55" fill="#9890d0"/>
<circle cx="100.3" cy="70.8" r="0.55" fill="#9890d0"/>
<circle cx="103.7" cy="81.6" r="0.55" fill="#9890d0"/>
<circle cx="102.4" cy="78.0" r="0.55" fill="#ffffff"/>
<circle cx="121.5" cy="77.6" r="0.55" fill="#d8d0f0"/>
<circle cx="100.1" cy="79.1" r="0.55" fill="#ffffff"/>
<circle cx="105.2" cy="63.4" r="0.55" fill="#d8d0f0"/>
<circle cx="100.4" cy="80.1" r="0.55" fill="#ffffff"/>
<circle cx="110.8" cy="80.8" r="0.55" fill="#ffffff"/>
<circle cx="108.8" cy="80.9" r="0.55" fill="#9890d0"/>
<circle cx="120.5" cy="80.4" r="0.55" fill="#ffffff"/>
<circle cx="107.0" cy="75.6" r="0.55" fill="#d8d0f0"/>
<circle cx="111.1" cy="86.1" r="0.55" fill="#d8d0f0"/>
<circle cx="100.8" cy="61.7" r="0.55" fill="#9890d0"/>
<circle cx="116.5" cy="77.3" r="0.55" fill="#d8d0f0"/>
<circle cx="107.5" cy="80.4" r="0.55" fill="#ffffff"/>
<circle cx="114.6" cy="68.9" r="0.55" fill="#9890d0"/>
<circle cx="117.5" cy="73.2" r="0.55" fill="#ffffff"/>
<circle cx="108.7" cy="78.1" r="0.55" fill="#9890d0"/>
<circle cx="119.2" cy="73.4" r="0.55" fill="#d8d0f0"/>
<circle cx="122.7" cy="82.0" r="0.55" fill="#9890d0"/>
<circle cx="108.0" cy="67.8" r="0.55" fill="#9890d0"/>
<circle cx="120.0" cy="76.8" r="0.55" fill="#d8d0f0"/>
<circle cx="105.9" cy="70.8" r="0.55" fill="#d8d0f0"/>
<circle cx="114.4" cy="85.1" r="0.55" fill="#d8d0f0"/>
<circle cx="106.3" cy="71.8" r="0.55" fill="#9890d0"/>
<circle cx="122.1" cy="81.4" r="0.55" fill="#ffffff"/>
<circle cx="106.9" cy="63.9" r="0.55" fill="#9890d0"/>
<circle cx="119.1" cy="75.3" r="0.55" fill="#d8d0f0"/>
<circle cx="108.3" cy="62.4" r="0.55" fill="#9890d0"/>
<circle cx="111.6" cy="70.7" r="0.55" fill="#9890d0"/>
<circle cx="114.6" cy="79.0" r="0.55" fill="#d8d0f0"/>
<circle cx="109.2" cy="75.1" r="0.55" fill="#9890d0"/>
<circle cx="119.4" cy="81.6" r="0.55" fill="#ffffff"/>
<circle cx="109.6" cy="74.6" r="0.55" fill="#d8d0f0"/>
<circle cx="111.4" cy="76.5" r="0.55" fill="#ffffff"/>
<circle cx="105.1" cy="62.6" r="0.55" fill="#9890d0"/>
<circle cx="107.0" cy="76.2" r="0.55" fill="#d8d0f0"/>
<circle cx="109.7" cy="74.5" r="0.55" fill="#ffffff"/>
<circle cx="111.8" cy="84.3" r="0.55" fill="#d8d0f0"/>
<circle cx="115.2" cy="82.0" r="0.55" fill="#ffffff"/>
<circle cx="106.7" cy="77.0" r="0.55" fill="#ffffff"/>
<circle cx="113.6" cy="67.3" r="0.55" fill="#d8d0f0"/>
<circle cx="110.2" cy="86.5" r="0.55" fill="#9890d0"/>
<circle cx="106.1" cy="61.1" r="0.55" fill="#ffffff"/>
<circle cx="100.7" cy="61.0" r="0.55" fill="#d8d0f0"/>
<circle cx="101.5" cy="76.7" r="0.55" fill="#d8d0f0"/>
<circle cx="122.1" cy="79.8" r="0.55" fill="#ffffff"/>
<circle cx="106.2" cy="75.8" r="0.55" fill="#9890d0"/>
<circle cx="112.2" cy="65.1" r="0.55" fill="#ffffff"/>
<circle cx="108.9" cy="66.6" r="0.55" fill="#9890d0"/>
<circle cx="105.3" cy="61.1" r="0.55" fill="#d8d0f0"/>
<circle cx="112.3" cy="80.7" r="0.55" fill="#d8d0f0"/>
<circle cx="87.7" cy="71.7" r="0.6" fill="#d02020"/>
<circle cx="99.2" cy="78.1" r="0.6" fill="#c81818"/>
<circle cx="94.7" cy="75.3" r="0.6" fill="#d02020"/>
<circle cx="93.1" cy="74.5" r="0.6" fill="#f08080"/>
<circle cx="88.6" cy="75.8" r="0.6" fill="#e06040"/>
<circle cx="92.7" cy="79.7" r="0.6" fill="#d02020"/>
<circle cx="93.1" cy="81.0" r="0.6" fill="#d02020"/>
<circle cx="91.9" cy="79.0" r="0.6" fill="#f08080"/>
<circle cx="92.0" cy="70.3" r="0.6" fill="#d02020"/>
<circle cx="92.9" cy="74.1" r="0.6" fill="#e06040"/>
<circle cx="93.2" cy="77.5" r="0.6" fill="#e06040"/>
<circle cx="91.3" cy="78.8" r="0.6" fill="#e06040"/>
<circle cx="96.3" cy="76.6" r="0.6" fill="#e06040"/>
<circle cx="92.7" cy="71.8" r="0.6" fill="#f08080"/>
<circle cx="92.4" cy="71.9" r="0.6" fill="#c81818"/>
<circle cx="94.4" cy="73.6" r="0.6" fill="#e06040"/>
<circle cx="90.4" cy="71.3" r="0.6" fill="#f08080"/>
<circle cx="98.7" cy="71.4" r="0.6" fill="#e87050"/>
<circle cx="95.7" cy="72.5" r="0.6" fill="#f08080"/>
<circle cx="97.9" cy="71.4" r="0.6" fill="#e06040"/>
<circle cx="90.4" cy="72.9" r="0.6" fill="#e06040"/>
<circle cx="88.3" cy="73.5" r="0.6" fill="#e06040"/>
<circle cx="90.8" cy="81.7" r="0.6" fill="#d02020"/>
<circle cx="92.7" cy="76.1" r="0.6" fill="#e87050"/>
<circle cx="88.8" cy="70.0" r="0.6" fill="#e87050"/>
<circle cx="90.7" cy="74.3" r="0.6" fill="#d02020"/>
<circle cx="98.9" cy="72.6" r="0.6" fill="#e87050"/>
<circle cx="93.8" cy="72.8" r="0.6" fill="#e06040"/>
<circle cx="89.6" cy="71.0" r="0.6" fill="#d02020"/>
<circle cx="98.6" cy="78.8" r="0.6" fill="#c81818"/>
<circle cx="89.3" cy="71.6" r="0.6" fill="#e06040"/>
<circle cx="94.6" cy="72.4" r="0.6" fill="#d02020"/>
<circle cx="96.0" cy="76.2" r="0.6" fill="#d02020"/>
<circle cx="93.7" cy="74.2" r="0.6" fill="#c81818"/>
<circle cx="97.9" cy="80.4" r="0.6" fill="#f08080"/>
<circle cx="96.9" cy="71.6" r="0.6" fill="#c81818"/>
<circle cx="90.2" cy="76.8" r="0.6" fill="#c81818"/>
<circle cx="94.5" cy="80.3" r="0.6" fill="#c81818"/>
<circle cx="93.8" cy="75.3" r="0.6" fill="#e87050"/>
<circle cx="90.2" cy="80.0" r="0.6" fill="#c81818"/>
<circle cx="97.1" cy="80.4" r="0.6" fill="#e87050"/>
<circle cx="96.8" cy="70.7" r="0.6" fill="#d02020"/>
<circle cx="99.4" cy="75.9" r="0.6" fill="#e87050"/>
<circle cx="88.7" cy="72.9" r="0.6" fill="#d02020"/>
<circle cx="89.9" cy="72.2" r="0.6" fill="#d02020"/>
<circle cx="91.1" cy="76.7" r="0.6" fill="#d02020"/>
<circle cx="96.6" cy="73.1" r="0.6" fill="#e87050"/>
<circle cx="95.3" cy="75.6" r="0.6" fill="#e06040"/>
<circle cx="96.1" cy="71.2" r="0.6" fill="#d02020"/>
<circle cx="96.3" cy="70.5" r="0.6" fill="#d02020"/>
<circle cx="93.0" cy="77.0" r="0.6" fill="#c81818"/>
<circle cx="88.4" cy="71.5" r="0.6" fill="#e06040"/>
<circle cx="94.0" cy="72.7" r="0.6" fill="#e06040"/>
<circle cx="88.9" cy="76.9" r="0.6" fill="#f08080"/>
<circle cx="99.2" cy="74.7" r="0.6" fill="#f08080"/>
<circle cx="94.8" cy="77.2" r="0.6" fill="#d02020"/>
<circle cx="92.1" cy="81.3" r="0.6" fill="#c81818"/>
<circle cx="91.4" cy="72.9" r="0.6" fill="#c81818"/>
<circle cx="96.3" cy="80.1" r="0.6" fill="#e87050"/>
<circle cx="97.5" cy="81.0" r="0.6" fill="#f08080"/>
<circle cx="98.0" cy="70.6" r="0.6" fill="#e87050"/>
<circle cx="91.6" cy="80.4" r="0.6" fill="#d02020"/>
<circle cx="91.7" cy="76.4" r="0.6" fill="#d02020"/>
<circle cx="91.2" cy="72.4" r="0.6" fill="#d02020"/>
<circle cx="89.9" cy="75.0" r="0.6" fill="#f08080"/>
<circle cx="97.1" cy="81.2" r="0.6" fill="#d02020"/>
<circle cx="97.5" cy="80.6" r="0.6" fill="#d02020"/>
<circle cx="90.5" cy="78.1" r="0.6" fill="#c81818"/>
<circle cx="95.2" cy="79.7" r="0.6" fill="#d02020"/>
<circle cx="95.1" cy="73.0" r="0.6" fill="#e87050"/>
<circle cx="87.5" cy="71.4" r="0.6" fill="#c81818"/>
<circle cx="95.4" cy="71.4" r="0.6" fill="#e87050"/>
<circle cx="98.7" cy="71.0" r="0.6" fill="#e87050"/>
<circle cx="93.9" cy="71.8" r="0.6" fill="#d02020"/>
<circle cx="93.7" cy="80.6" r="0.6" fill="#f08080"/>
<circle cx="94.5" cy="73.3" r="0.6" fill="#d02020"/>
<circle cx="96.6" cy="73.4" r="0.6" fill="#f08080"/>
<circle cx="94.9" cy="76.8" r="0.6" fill="#f08080"/>
<circle cx="89.6" cy="78.5" r="0.6" fill="#f08080"/>
<circle cx="98.6" cy="73.6" r="0.6" fill="#f08080"/>
<path d="M90.2 78 L97.6 78 L97.4 87 L97 95 L96.2 104 L94.8 96 L92.6 87 Z" fill="#d41e1e" filter="url(#bl1)"/>
<path d="M95.6 100 L96.4 100 L96 108 Z" fill="#d84040" opacity="0.6"/>
<path d="M74.8 88 Q80 95 81.5 102 Q83 111 84.3 127" fill="none" stroke="#c04858" stroke-width="1" opacity="0.85" stroke-dasharray="3 0.8"/>
<circle cx="109.3" cy="97.3" r="0.45" fill="#9098c8"/>
<circle cx="106.0" cy="93.7" r="0.45" fill="#e0a0a0"/>
<circle cx="107.2" cy="105.6" r="0.45" fill="#9098c8"/>
<circle cx="105.8" cy="96.1" r="0.45" fill="#9098c8"/>
<circle cx="105.1" cy="111.2" r="0.45" fill="#9098c8"/>
<circle cx="111.2" cy="106.2" r="0.45" fill="#c8c8e0"/>
<circle cx="108.6" cy="89.9" r="0.45" fill="#c8c8e0"/>
<circle cx="118.0" cy="98.6" r="0.45" fill="#9098c8"/>
<circle cx="108.0" cy="108.0" r="0.45" fill="#9098c8"/>
<circle cx="114.2" cy="106.5" r="0.45" fill="#c8c8e0"/>
<circle cx="117.7" cy="103.5" r="0.45" fill="#e0a0a0"/>
<circle cx="113.1" cy="107.0" r="0.45" fill="#e0a0a0"/>
<circle cx="112.1" cy="102.9" r="0.45" fill="#e0a0a0"/>
<circle cx="104.7" cy="106.6" r="0.45" fill="#9098c8"/>
<circle cx="107.1" cy="101.6" r="0.45" fill="#c8c8e0"/>
<circle cx="104.9" cy="98.6" r="0.45" fill="#c8c8e0"/>
<circle cx="107.4" cy="104.7" r="0.45" fill="#c8c8e0"/>
<circle cx="113.6" cy="88.2" r="0.45" fill="#e0a0a0"/>
<circle cx="118.4" cy="103.0" r="0.45" fill="#c8c8e0"/>
<circle cx="105.2" cy="104.1" r="0.45" fill="#9098c8"/>
<circle cx="108.5" cy="99.3" r="0.45" fill="#9098c8"/>
<circle cx="105.8" cy="113.3" r="0.45" fill="#9098c8"/>
<circle cx="108.2" cy="115.3" r="0.45" fill="#9098c8"/>
<circle cx="110.9" cy="97.4" r="0.45" fill="#e0a0a0"/>
<circle cx="110.4" cy="108.6" r="0.45" fill="#c8c8e0"/>
<circle cx="109.1" cy="89.2" r="0.45" fill="#e0a0a0"/>
<circle cx="114.2" cy="103.8" r="0.45" fill="#9098c8"/>
<circle cx="107.8" cy="103.0" r="0.45" fill="#e0a0a0"/>
<circle cx="111.5" cy="105.2" r="0.45" fill="#9098c8"/>
<circle cx="108.6" cy="106.7" r="0.45" fill="#e0a0a0"/>
<circle cx="106.2" cy="103.9" r="0.45" fill="#9098c8"/>
<circle cx="102.1" cy="97.5" r="0.45" fill="#9098c8"/>
<circle cx="117.8" cy="103.4" r="0.45" fill="#9098c8"/>
<circle cx="113.7" cy="96.8" r="0.45" fill="#c8c8e0"/>
<circle cx="119.3" cy="100.6" r="0.45" fill="#9098c8"/>
<g filter="url(#bl1)">
<path d="M121 80 Q126.6 86 126.6 92 Q126 96.5 116 97" fill="none" stroke="#6a78c6" stroke-width="1.6"/>
</g>
<circle cx="118.3" cy="94.2" r="0.5" fill="#a0a8dc"/>
<circle cx="118.1" cy="87.9" r="0.5" fill="#a0a8dc"/>
<circle cx="112.7" cy="91.6" r="0.5" fill="#a0a8dc"/>
<circle cx="116.2" cy="95.9" r="0.5" fill="#ffffff"/>
<circle cx="120.7" cy="92.9" r="0.5" fill="#a0a8dc"/>
<circle cx="121.5" cy="89.1" r="0.5" fill="#ffffff"/>
<circle cx="118.6" cy="95.2" r="0.5" fill="#c0c4e8"/>
<circle cx="122.1" cy="91.9" r="0.5" fill="#ffffff"/>
<circle cx="112.4" cy="87.8" r="0.5" fill="#ffffff"/>
<circle cx="118.8" cy="94.7" r="0.5" fill="#ffffff"/>
<circle cx="118.2" cy="87.4" r="0.5" fill="#a0a8dc"/>
<circle cx="116.9" cy="87.2" r="0.5" fill="#a0a8dc"/>
<circle cx="118.2" cy="91.1" r="0.5" fill="#a0a8dc"/>
<circle cx="113.2" cy="87.7" r="0.5" fill="#ffffff"/>
<circle cx="117.9" cy="90.7" r="0.5" fill="#c0c4e8"/>
<circle cx="121.7" cy="86.6" r="0.5" fill="#a0a8dc"/>
<circle cx="120.2" cy="91.8" r="0.5" fill="#a0a8dc"/>
<circle cx="120.6" cy="89.5" r="0.5" fill="#a0a8dc"/>
<circle cx="112.4" cy="92.3" r="0.5" fill="#ffffff"/>
<circle cx="112.8" cy="87.9" r="0.5" fill="#ffffff"/>
<circle cx="116.6" cy="86.5" r="0.5" fill="#c0c4e8"/>
<circle cx="119.0" cy="95.6" r="0.5" fill="#c0c4e8"/>
<circle cx="112.7" cy="88.4" r="0.5" fill="#a0a8dc"/>
<circle cx="112.5" cy="95.3" r="0.5" fill="#a0a8dc"/>
<circle cx="115.8" cy="95.0" r="0.5" fill="#c0c4e8"/>
</g>
<rect x="18.7" y="21" width="118.1" height="115.2" fill="none" stroke="#0a0a0a" stroke-width="1.6"/>
<text x="23" y="29.2" class="t7">WT LK cells</text>
<text x="141" y="26" class="lg" textLength="23" lengthAdjust="spacingAndGlyphs">Cluster</text>
<rect x="141" y="28.80" width="4" height="4" fill="#a4cc8c"/>
<text x="148.3" y="33.50" class="lg">1</text>
<rect x="141" y="37.43" width="4" height="4" fill="#7a2a80"/>
<text x="148.3" y="42.13" class="lg">2</text>
<rect x="141" y="46.06" width="4" height="4" fill="#c8a4a0"/>
<text x="148.3" y="50.76" class="lg">3</text>
<rect x="141" y="54.69" width="4" height="4" fill="#a49cc4"/>
<text x="148.3" y="59.39" class="lg">4</text>
<rect x="141" y="63.32" width="4" height="4" fill="#3c3290"/>
<text x="148.3" y="68.02" class="lg">5</text>
<rect x="141" y="71.95" width="4" height="4" fill="#22205e"/>
<text x="148.3" y="76.65" class="lg">6</text>
<rect x="141" y="80.58" width="4" height="4" fill="#ece04c"/>
<text x="148.3" y="85.28" class="lg">7</text>
<rect x="141" y="89.21" width="4" height="4" fill="#b47a22"/>
<text x="148.3" y="93.91" class="lg">8</text>
<rect x="141" y="97.84" width="4" height="4" fill="#b42020"/>
<text x="148.3" y="102.54" class="lg">9</text>
<rect x="141" y="106.47" width="4" height="4" fill="#6c80c4"/>
<text x="148.3" y="111.17" class="lg">10</text>
<rect x="141" y="115.10" width="4" height="4" fill="#5e9242"/>
<text x="148.3" y="119.80" class="lg">11</text>
<rect x="141" y="123.73" width="4" height="4" fill="#c2bab2"/>
<text x="148.3" y="128.43" class="lg">12</text>
<rect x="141" y="132.36" width="4" height="4" fill="#201420"/>
<text x="148.3" y="137.06" class="lg">13</text>
<text x="173.7" y="16.4" class="pl" textLength="7.5" lengthAdjust="spacingAndGlyphs">B</text>
<g id="Bscat">
<g filter="url(#bl1)">
<polygon points="248.6,33 251.4,33 253.4,45 254.2,56 253.6,63 250,66.5 247.2,63 247.2,50 248,40" fill="#f6f6b8" filter="url(#bl1)"/>
<polygon points="249.3,33.5 250.7,33.5 252,45 252.8,55 252.2,62 250,65 248.2,62 248.2,50 248.8,40" fill="#eeec2c"/>
<polygon points="254.5,59 258,54 262,50 265,47.5 268,51 267.5,57 263,63 257,63.5" fill="#a6d65c"/>
<polygon points="266,46 270,46 271,53 267,55" fill="#f0b8a0"/>
<polygon points="263.8,35.5 265.3,35 266.3,40 267.5,45 268.3,50 266,52.5 263.5,50 264.5,44 264.6,40" fill="#3a8a28"/>
<polygon points="259.5,61 264,57 268,56 271,63 274,71 277,79 280,86 282,92 278,93.5 272,87 267,78 262,68" fill="#bca8e0"/>
<polygon points="268,49 271,47.5 275.5,47 277.6,50 277.2,60 276.8,70 276.2,80 274.6,82.5 272.6,74 270.6,64 268,55" fill="#f37c34"/>
<line x1="277.5" y1="48.5" x2="282" y2="40" stroke="#b0a0a0" stroke-width="1.1"/>
<polygon points="271.5,80 276.5,81 279.5,89 282,97 285.5,105.5 289,115.5 286,110 281,102 276.5,94 273,87" fill="#6874c2"/>
<polygon points="243,73 248,68 252,63 254.5,65.5 251,71 246,77 242,80" fill="#30289a"/>
<polygon points="197,119 199,112.5 202.8,103.3 206.8,96.6 210.7,94 220.7,89.6 230.7,83.2 240.7,76.5 244,74 246.8,76.5 246,79 242.5,81.8 232.5,89.3 222.5,96 214.5,101 207.5,107 200.5,114.5" fill="url(#bandB)"/>
</g>
<polygon points="248,65 262,62 270,72 272,86 262,90 250,88 246,78" fill="#f2d4dc" opacity="0.55" filter="url(#bl2)"/>
<circle cx="253.2" cy="79.7" r="0.55" fill="#8888cc"/>
<circle cx="263.3" cy="81.9" r="0.55" fill="#ffffff"/>
<circle cx="256.2" cy="73.4" r="0.55" fill="#8888cc"/>
<circle cx="247.4" cy="66.3" r="0.55" fill="#4848b0"/>
<circle cx="252.8" cy="78.4" r="0.55" fill="#e86a6a"/>
<circle cx="254.0" cy="88.0" r="0.55" fill="#c0b0e0"/>
<circle cx="255.9" cy="63.0" r="0.55" fill="#e86a6a"/>
<circle cx="256.4" cy="89.3" r="0.55" fill="#ffffff"/>
<circle cx="255.5" cy="75.5" r="0.55" fill="#c0b0e0"/>
<circle cx="262.9" cy="71.6" r="0.55" fill="#ffffff"/>
<circle cx="251.5" cy="65.0" r="0.55" fill="#ffffff"/>
<circle cx="252.3" cy="86.9" r="0.55" fill="#ffffff"/>
<circle cx="260.0" cy="75.5" r="0.55" fill="#ffffff"/>
<circle cx="249.3" cy="71.9" r="0.55" fill="#4848b0"/>
<circle cx="258.6" cy="68.0" r="0.55" fill="#8888cc"/>
<circle cx="263.2" cy="90.2" r="0.55" fill="#f4b0b0"/>
<circle cx="261.1" cy="74.7" r="0.55" fill="#c0b0e0"/>
<circle cx="259.4" cy="73.5" r="0.55" fill="#ffffff"/>
<circle cx="248.4" cy="84.3" r="0.55" fill="#e86a6a"/>
<circle cx="259.7" cy="69.4" r="0.55" fill="#4848b0"/>
<circle cx="264.2" cy="82.5" r="0.55" fill="#ffffff"/>
<circle cx="253.7" cy="81.5" r="0.55" fill="#e86a6a"/>
<circle cx="266.7" cy="84.5" r="0.55" fill="#ffffff"/>
<circle cx="246.8" cy="70.6" r="0.55" fill="#ffffff"/>
<circle cx="252.8" cy="86.3" r="0.55" fill="#4848b0"/>
<circle cx="252.6" cy="73.5" r="0.55" fill="#8888cc"/>
<circle cx="265.9" cy="88.4" r="0.55" fill="#ffffff"/>
<circle cx="254.9" cy="85.8" r="0.55" fill="#c0b0e0"/>
<circle cx="264.0" cy="75.3" r="0.55" fill="#4848b0"/>
<circle cx="254.5" cy="80.5" r="0.55" fill="#ffffff"/>
<circle cx="252.9" cy="69.4" r="0.55" fill="#ffffff"/>
<circle cx="250.3" cy="70.4" r="0.55" fill="#4848b0"/>
<circle cx="264.9" cy="78.1" r="0.55" fill="#ffffff"/>
<circle cx="260.2" cy="68.1" r="0.55" fill="#8888cc"/>
<circle cx="264.3" cy="68.9" r="0.55" fill="#4848b0"/>
<circle cx="263.1" cy="78.8" r="0.55" fill="#d83030"/>
<circle cx="248.0" cy="84.7" r="0.55" fill="#f4b0b0"/>
<circle cx="269.3" cy="88.1" r="0.55" fill="#d83030"/>
<circle cx="271.3" cy="82.1" r="0.55" fill="#d83030"/>
<circle cx="266.4" cy="67.5" r="0.55" fill="#c0b0e0"/>
<circle cx="263.8" cy="73.2" r="0.55" fill="#ffffff"/>
<circle cx="252.6" cy="63.8" r="0.55" fill="#4848b0"/>
<circle cx="256.9" cy="71.5" r="0.55" fill="#8888cc"/>
<circle cx="258.7" cy="82.0" r="0.55" fill="#ffffff"/>
<circle cx="256.6" cy="76.9" r="0.55" fill="#ffffff"/>
<circle cx="258.2" cy="66.9" r="0.55" fill="#f4b0b0"/>
<circle cx="249.7" cy="66.1" r="0.55" fill="#ffffff"/>
<circle cx="259.7" cy="68.7" r="0.55" fill="#d83030"/>
<circle cx="249.5" cy="71.8" r="0.55" fill="#e86a6a"/>
<circle cx="250.4" cy="70.6" r="0.55" fill="#ffffff"/>
<circle cx="263.5" cy="76.1" r="0.55" fill="#8888cc"/>
<circle cx="251.4" cy="68.5" r="0.55" fill="#8888cc"/>
<circle cx="248.6" cy="80.9" r="0.55" fill="#f4b0b0"/>
<circle cx="248.6" cy="82.9" r="0.55" fill="#ffffff"/>
<circle cx="254.0" cy="86.3" r="0.55" fill="#4848b0"/>
<circle cx="265.5" cy="66.2" r="0.55" fill="#ffffff"/>
<circle cx="261.2" cy="75.3" r="0.55" fill="#4848b0"/>
<circle cx="252.8" cy="72.2" r="0.55" fill="#ffffff"/>
<circle cx="253.2" cy="64.4" r="0.55" fill="#f4b0b0"/>
<circle cx="257.1" cy="64.5" r="0.55" fill="#c0b0e0"/>
<circle cx="257.0" cy="78.6" r="0.55" fill="#f4b0b0"/>
<circle cx="260.2" cy="64.4" r="0.55" fill="#8888cc"/>
<circle cx="270.8" cy="76.1" r="0.55" fill="#c0b0e0"/>
<circle cx="262.4" cy="80.5" r="0.55" fill="#f4b0b0"/>
<circle cx="262.6" cy="63.4" r="0.55" fill="#d83030"/>
<circle cx="245.7" cy="73.3" r="0.55" fill="#ffffff"/>
<circle cx="253.0" cy="66.8" r="0.55" fill="#ffffff"/>
<circle cx="247.8" cy="83.3" r="0.55" fill="#f4b0b0"/>
<circle cx="265.0" cy="71.1" r="0.55" fill="#ffffff"/>
<circle cx="262.5" cy="72.0" r="0.55" fill="#ffffff"/>
<circle cx="255.0" cy="78.1" r="0.55" fill="#c0b0e0"/>
<circle cx="267.6" cy="68.9" r="0.55" fill="#d83030"/>
<circle cx="246.1" cy="78.6" r="0.55" fill="#4848b0"/>
<circle cx="258.3" cy="76.5" r="0.55" fill="#ffffff"/>
<circle cx="271.9" cy="79.7" r="0.55" fill="#e86a6a"/>
<circle cx="248.8" cy="68.1" r="0.55" fill="#ffffff"/>
<circle cx="256.9" cy="66.9" r="0.55" fill="#c0b0e0"/>
<circle cx="268.1" cy="85.4" r="0.55" fill="#4848b0"/>
<circle cx="249.8" cy="83.5" r="0.55" fill="#4848b0"/>
<circle cx="253.0" cy="74.7" r="0.55" fill="#c0b0e0"/>
<circle cx="260.3" cy="75.5" r="0.55" fill="#c0b0e0"/>
<circle cx="259.0" cy="74.3" r="0.55" fill="#ffffff"/>
<circle cx="261.7" cy="86.1" r="0.55" fill="#d83030"/>
<circle cx="264.5" cy="71.3" r="0.55" fill="#f4b0b0"/>
<circle cx="260.3" cy="74.1" r="0.55" fill="#c0b0e0"/>
<circle cx="258.0" cy="81.1" r="0.55" fill="#f4b0b0"/>
<circle cx="268.4" cy="77.4" r="0.55" fill="#d83030"/>
<circle cx="265.0" cy="82.4" r="0.55" fill="#ffffff"/>
<circle cx="262.8" cy="72.5" r="0.55" fill="#4848b0"/>
<circle cx="254.7" cy="68.4" r="0.55" fill="#8888cc"/>
<circle cx="255.7" cy="64.5" r="0.55" fill="#ffffff"/>
<circle cx="265.2" cy="67.9" r="0.55" fill="#f4b0b0"/>
<circle cx="262.5" cy="66.8" r="0.55" fill="#f4b0b0"/>
<circle cx="264.1" cy="68.0" r="0.55" fill="#8888cc"/>
<circle cx="251.1" cy="78.8" r="0.55" fill="#e86a6a"/>
<circle cx="264.9" cy="89.2" r="0.55" fill="#e86a6a"/>
<circle cx="268.0" cy="82.1" r="0.55" fill="#8888cc"/>
<circle cx="248.6" cy="76.6" r="0.55" fill="#e86a6a"/>
<circle cx="261.9" cy="90.8" r="0.55" fill="#e86a6a"/>
<circle cx="257.4" cy="82.3" r="0.55" fill="#ffffff"/>
<circle cx="257.8" cy="63.9" r="0.55" fill="#c0b0e0"/>
<circle cx="251.4" cy="72.5" r="0.55" fill="#d83030"/>
<circle cx="264.0" cy="90.6" r="0.55" fill="#8888cc"/>
<circle cx="253.1" cy="82.9" r="0.55" fill="#4848b0"/>
<circle cx="248.1" cy="83.6" r="0.55" fill="#c0b0e0"/>
<circle cx="249.5" cy="84.1" r="0.55" fill="#c0b0e0"/>
<circle cx="266.7" cy="83.8" r="0.55" fill="#d83030"/>
<circle cx="255.1" cy="83.9" r="0.55" fill="#c0b0e0"/>
<circle cx="261.3" cy="64.1" r="0.55" fill="#c0b0e0"/>
<circle cx="270.0" cy="81.9" r="0.55" fill="#f4b0b0"/>
<circle cx="254.6" cy="82.5" r="0.55" fill="#d83030"/>
<circle cx="267.6" cy="79.0" r="0.55" fill="#e86a6a"/>
<circle cx="266.4" cy="76.1" r="0.55" fill="#e86a6a"/>
<circle cx="266.6" cy="66.7" r="0.55" fill="#f4b0b0"/>
<circle cx="268.6" cy="81.8" r="0.55" fill="#ffffff"/>
<circle cx="260.9" cy="68.8" r="0.55" fill="#f4b0b0"/>
<circle cx="254.2" cy="65.7" r="0.55" fill="#8888cc"/>
<circle cx="268.6" cy="85.8" r="0.55" fill="#d83030"/>
<circle cx="247.0" cy="80.2" r="0.55" fill="#4848b0"/>
<circle cx="263.7" cy="74.9" r="0.55" fill="#ffffff"/>
<circle cx="268.6" cy="79.9" r="0.55" fill="#e86a6a"/>
<circle cx="254.7" cy="77.4" r="0.55" fill="#f4b0b0"/>
<circle cx="269.1" cy="79.3" r="0.55" fill="#d83030"/>
<circle cx="250.7" cy="86.4" r="0.55" fill="#8888cc"/>
<circle cx="253.9" cy="75.5" r="0.55" fill="#c0b0e0"/>
<circle cx="253.5" cy="71.4" r="0.55" fill="#8888cc"/>
<circle cx="263.1" cy="69.5" r="0.55" fill="#f4b0b0"/>
<circle cx="254.6" cy="78.8" r="0.55" fill="#ffffff"/>
<circle cx="260.1" cy="84.9" r="0.55" fill="#ffffff"/>
<circle cx="265.9" cy="80.6" r="0.55" fill="#e86a6a"/>
<circle cx="254.8" cy="69.7" r="0.55" fill="#ffffff"/>
<circle cx="263.4" cy="70.4" r="0.55" fill="#c0b0e0"/>
<circle cx="265.0" cy="76.8" r="0.55" fill="#ffffff"/>
<circle cx="254.5" cy="78.1" r="0.55" fill="#4848b0"/>
<circle cx="254.0" cy="82.8" r="0.55" fill="#c0b0e0"/>
<circle cx="268.9" cy="85.3" r="0.55" fill="#c0b0e0"/>
<circle cx="269.1" cy="86.1" r="0.55" fill="#c0b0e0"/>
<circle cx="249.1" cy="67.4" r="0.55" fill="#8888cc"/>
<circle cx="255.9" cy="73.3" r="0.55" fill="#f4b0b0"/>
<circle cx="270.1" cy="79.2" r="0.55" fill="#ffffff"/>
<circle cx="253.1" cy="70.6" r="0.55" fill="#c0b0e0"/>
<circle cx="247.0" cy="66.9" r="0.55" fill="#e86a6a"/>
<circle cx="260.8" cy="70.4" r="0.55" fill="#c0b0e0"/>
<circle cx="265.9" cy="74.3" r="0.55" fill="#e86a6a"/>
<circle cx="267.6" cy="70.9" r="0.55" fill="#ffffff"/>
<circle cx="252.4" cy="69.0" r="0.55" fill="#d83030"/>
<circle cx="265.5" cy="80.4" r="0.55" fill="#ffffff"/>
<circle cx="264.0" cy="67.8" r="0.55" fill="#4848b0"/>
<circle cx="257.1" cy="88.7" r="0.55" fill="#f4b0b0"/>
<circle cx="268.3" cy="81.1" r="0.55" fill="#ffffff"/>
<circle cx="260.5" cy="83.3" r="0.55" fill="#d83030"/>
<circle cx="250.1" cy="77.6" r="0.55" fill="#d83030"/>
<circle cx="262.3" cy="89.6" r="0.55" fill="#ffffff"/>
<circle cx="253.7" cy="87.9" r="0.55" fill="#d83030"/>
<circle cx="262.5" cy="73.6" r="0.55" fill="#c0b0e0"/>
<circle cx="261.5" cy="85.1" r="0.55" fill="#4848b0"/>
<circle cx="251.9" cy="75.4" r="0.55" fill="#d83030"/>
<circle cx="262.7" cy="70.7" r="0.55" fill="#4848b0"/>
<circle cx="261.6" cy="83.4" r="0.55" fill="#c0b0e0"/>
<circle cx="250.7" cy="77.4" r="0.55" fill="#e86a6a"/>
<circle cx="254.7" cy="72.2" r="0.55" fill="#c0b0e0"/>
<circle cx="259.5" cy="79.2" r="0.55" fill="#ffffff"/>
<circle cx="262.7" cy="79.6" r="0.55" fill="#c0b0e0"/>
<circle cx="251.2" cy="80.2" r="0.55" fill="#8888cc"/>
<circle cx="265.6" cy="85.1" r="0.55" fill="#f4b0b0"/>
<circle cx="262.6" cy="78.0" r="0.55" fill="#8888cc"/>
<circle cx="260.1" cy="72.2" r="0.55" fill="#f4b0b0"/>
<circle cx="257.8" cy="81.3" r="0.55" fill="#c0b0e0"/>
<circle cx="249.1" cy="80.5" r="0.55" fill="#4848b0"/>
<circle cx="246.6" cy="76.6" r="0.55" fill="#ffffff"/>
<circle cx="252.0" cy="79.8" r="0.55" fill="#ffffff"/>
<circle cx="269.4" cy="88.0" r="0.55" fill="#ffffff"/>
<circle cx="259.3" cy="71.9" r="0.55" fill="#ffffff"/>
<circle cx="256.9" cy="87.7" r="0.55" fill="#ffffff"/>
<circle cx="262.2" cy="71.7" r="0.55" fill="#4848b0"/>
<circle cx="257.4" cy="71.0" r="0.55" fill="#d83030"/>
<circle cx="247.9" cy="83.7" r="0.55" fill="#e86a6a"/>
<circle cx="266.8" cy="89.3" r="0.55" fill="#c0b0e0"/>
<circle cx="246.6" cy="78.5" r="0.55" fill="#4848b0"/>
<circle cx="269.5" cy="72.6" r="0.55" fill="#ffffff"/>
<circle cx="264.2" cy="68.5" r="0.55" fill="#c0b0e0"/>
<circle cx="250.5" cy="84.5" r="0.55" fill="#f4b0b0"/>
<circle cx="250.8" cy="78.7" r="0.55" fill="#ffffff"/>
<circle cx="257.9" cy="90.0" r="0.55" fill="#f4b0b0"/>
<circle cx="253.1" cy="63.7" r="0.55" fill="#d83030"/>
<circle cx="258.1" cy="88.6" r="0.55" fill="#ffffff"/>
<circle cx="253.6" cy="79.9" r="0.55" fill="#8888cc"/>
<circle cx="266.1" cy="87.4" r="0.55" fill="#c0b0e0"/>
<circle cx="256.9" cy="74.5" r="0.55" fill="#ffffff"/>
<circle cx="264.9" cy="64.0" r="0.55" fill="#ffffff"/>
<circle cx="257.5" cy="73.3" r="0.55" fill="#4848b0"/>
<circle cx="264.3" cy="88.3" r="0.55" fill="#d83030"/>
<circle cx="260.8" cy="67.2" r="0.55" fill="#d83030"/>
<circle cx="246.0" cy="76.6" r="0.55" fill="#ffffff"/>
<circle cx="260.5" cy="82.7" r="0.55" fill="#d83030"/>
<circle cx="251.0" cy="77.8" r="0.55" fill="#e86a6a"/>
<circle cx="259.3" cy="87.0" r="0.55" fill="#e86a6a"/>
<circle cx="254.4" cy="67.7" r="0.55" fill="#ffffff"/>
<circle cx="264.7" cy="69.5" r="0.55" fill="#ffffff"/>
<circle cx="257.3" cy="69.7" r="0.55" fill="#c0b0e0"/>
<circle cx="256.3" cy="91.8" r="0.6" fill="#c81818"/>
<circle cx="256.6" cy="83.6" r="0.6" fill="#e04040"/>
<circle cx="254.5" cy="83.4" r="0.6" fill="#d02020"/>
<circle cx="252.6" cy="83.4" r="0.6" fill="#e04040"/>
<circle cx="257.6" cy="90.6" r="0.6" fill="#c81818"/>
<circle cx="259.1" cy="81.6" r="0.6" fill="#c81818"/>
<circle cx="256.8" cy="91.9" r="0.6" fill="#d02020"/>
<circle cx="256.0" cy="79.2" r="0.6" fill="#c81818"/>
<circle cx="257.4" cy="90.7" r="0.6" fill="#d02020"/>
<circle cx="252.9" cy="85.8" r="0.6" fill="#c81818"/>
<circle cx="255.8" cy="85.7" r="0.6" fill="#e04040"/>
<circle cx="253.5" cy="86.1" r="0.6" fill="#e04040"/>
<circle cx="257.0" cy="89.9" r="0.6" fill="#c81818"/>
<circle cx="252.1" cy="85.6" r="0.6" fill="#e04040"/>
<circle cx="250.8" cy="86.8" r="0.6" fill="#c81818"/>
<circle cx="258.4" cy="83.0" r="0.6" fill="#d02020"/>
<circle cx="252.7" cy="85.4" r="0.6" fill="#c81818"/>
<circle cx="255.9" cy="89.6" r="0.6" fill="#d02020"/>
<circle cx="255.5" cy="85.6" r="0.6" fill="#d02020"/>
<circle cx="258.3" cy="82.9" r="0.6" fill="#c81818"/>
<circle cx="253.7" cy="81.1" r="0.6" fill="#d02020"/>
<circle cx="252.4" cy="80.9" r="0.6" fill="#d02020"/>
<circle cx="257.8" cy="81.3" r="0.6" fill="#d02020"/>
<circle cx="258.3" cy="87.1" r="0.6" fill="#d02020"/>
<circle cx="251.9" cy="83.1" r="0.6" fill="#e04040"/>
<circle cx="249.5" cy="80.2" r="0.6" fill="#e04040"/>
<circle cx="252.5" cy="83.1" r="0.6" fill="#c81818"/>
<circle cx="257.6" cy="85.3" r="0.6" fill="#e04040"/>
<circle cx="255.9" cy="81.9" r="0.6" fill="#e04040"/>
<circle cx="253.4" cy="84.7" r="0.6" fill="#d02020"/>
<circle cx="257.1" cy="80.1" r="0.6" fill="#c81818"/>
<circle cx="255.9" cy="86.7" r="0.6" fill="#c81818"/>
<circle cx="252.1" cy="83.3" r="0.6" fill="#d02020"/>
<circle cx="254.7" cy="78.0" r="0.6" fill="#e04040"/>
<circle cx="256.6" cy="81.8" r="0.6" fill="#e04040"/>
<circle cx="251.1" cy="81.7" r="0.6" fill="#e04040"/>
<circle cx="258.3" cy="80.8" r="0.6" fill="#e04040"/>
<circle cx="257.4" cy="90.9" r="0.6" fill="#c81818"/>
<circle cx="253.3" cy="83.1" r="0.6" fill="#c81818"/>
<circle cx="257.0" cy="91.6" r="0.6" fill="#e04040"/>
<circle cx="255.8" cy="89.4" r="0.6" fill="#e04040"/>
<circle cx="255.0" cy="78.9" r="0.6" fill="#d02020"/>
<circle cx="252.0" cy="79.0" r="0.6" fill="#e04040"/>
<circle cx="252.6" cy="85.4" r="0.6" fill="#e04040"/>
<circle cx="257.5" cy="79.5" r="0.6" fill="#c81818"/>
<circle cx="253.6" cy="84.5" r="0.6" fill="#e04040"/>
<circle cx="253.0" cy="84.6" r="0.6" fill="#d02020"/>
<circle cx="253.3" cy="84.9" r="0.6" fill="#c81818"/>
<circle cx="257.0" cy="78.1" r="0.6" fill="#d02020"/>
<circle cx="256.9" cy="83.6" r="0.6" fill="#d02020"/>
<circle cx="259.1" cy="82.1" r="0.6" fill="#e04040"/>
<circle cx="257.2" cy="88.8" r="0.6" fill="#d02020"/>
<circle cx="254.9" cy="78.2" r="0.6" fill="#e04040"/>
<circle cx="254.8" cy="78.8" r="0.6" fill="#c81818"/>
<circle cx="250.4" cy="82.7" r="0.6" fill="#d02020"/>
<circle cx="254.6" cy="88.5" r="0.6" fill="#c81818"/>
<circle cx="249.7" cy="83.7" r="0.6" fill="#d02020"/>
<circle cx="258.5" cy="80.0" r="0.6" fill="#e04040"/>
<circle cx="250.2" cy="85.5" r="0.6" fill="#c81818"/>
<circle cx="251.1" cy="82.4" r="0.6" fill="#e04040"/>
<circle cx="256.0" cy="82.2" r="0.6" fill="#e04040"/>
<circle cx="254.1" cy="83.9" r="0.6" fill="#d02020"/>
<circle cx="251.7" cy="81.5" r="0.6" fill="#e04040"/>
<circle cx="257.6" cy="90.0" r="0.6" fill="#e04040"/>
<circle cx="251.7" cy="79.8" r="0.6" fill="#d02020"/>
<circle cx="254.4" cy="83.2" r="0.6" fill="#e04040"/>
<circle cx="255.9" cy="87.9" r="0.6" fill="#d02020"/>
<circle cx="252.4" cy="89.2" r="0.6" fill="#d02020"/>
<circle cx="253.5" cy="87.9" r="0.6" fill="#c81818"/>
<circle cx="254.4" cy="83.7" r="0.6" fill="#c81818"/>
<path d="M251.5 84 L257 84 L256.3 92 L255.2 101 L254.2 92 Z" fill="#d21e1e" filter="url(#bl1)"/>
<circle cx="265.5" cy="95.0" r="0.45" fill="#a0a0c8"/>
<circle cx="273.4" cy="100.8" r="0.45" fill="#8888b8"/>
<circle cx="271.8" cy="94.5" r="0.45" fill="#8888b8"/>
<circle cx="269.1" cy="102.0" r="0.45" fill="#a0a0c8"/>
<circle cx="264.0" cy="90.2" r="0.45" fill="#a0a0c8"/>
<circle cx="275.0" cy="96.0" r="0.45" fill="#a0a0c8"/>
<circle cx="276.8" cy="97.0" r="0.45" fill="#a0a0c8"/>
<circle cx="270.0" cy="98.8" r="0.45" fill="#8888b8"/>
<circle cx="274.0" cy="100.8" r="0.45" fill="#8888b8"/>
<circle cx="275.4" cy="90.3" r="0.45" fill="#8888b8"/>
<circle cx="265.3" cy="89.6" r="0.45" fill="#a0a0c8"/>
<circle cx="265.2" cy="89.5" r="0.45" fill="#a0a0c8"/>
<circle cx="268.6" cy="98.5" r="0.45" fill="#c8b0c0"/>
<circle cx="273.3" cy="95.1" r="0.45" fill="#c8b0c0"/>
<circle cx="264.5" cy="88.9" r="0.45" fill="#8888b8"/>
<circle cx="264.1" cy="90.6" r="0.45" fill="#c8b0c0"/>
<circle cx="266.7" cy="91.7" r="0.45" fill="#8888b8"/>
<circle cx="274.8" cy="99.3" r="0.45" fill="#8888b8"/>
<circle cx="267.2" cy="101.5" r="0.45" fill="#a0a0c8"/>
<circle cx="277.1" cy="98.6" r="0.45" fill="#a0a0c8"/>
<circle cx="268.1" cy="98.3" r="0.45" fill="#a0a0c8"/>
<circle cx="272.5" cy="99.1" r="0.45" fill="#a0a0c8"/>
<circle cx="269.4" cy="99.7" r="0.45" fill="#c8b0c0"/>
<circle cx="267.3" cy="94.4" r="0.45" fill="#a0a0c8"/>
<circle cx="275.3" cy="90.0" r="0.45" fill="#a0a0c8"/>
<line x1="292.5" y1="30" x2="295.5" y2="26.5" stroke="#9090a0" stroke-width="0.9"/>
<circle cx="244.6" cy="43" r="0.8" fill="#6060a0"/>
<line x1="232" y1="100" x2="235" y2="98" stroke="#a0a0a8" stroke-width="1"/>
<line x1="225" y1="99.5" x2="227" y2="98.5" stroke="#c0c0c8" stroke-width="0.8"/>
<line x1="216" y1="99.5" x2="219" y2="98" stroke="#c8b8d0" stroke-width="0.7"/>
<circle cx="214" cy="107.5" r="0.6" fill="#a8a8b0"/>
<circle cx="194.7" cy="120.9" r="0.5" fill="#9090a8"/>
<circle cx="191.1" cy="125.8" r="0.5" fill="#9090a8"/>
<circle cx="192.4" cy="120.8" r="0.5" fill="#9090a8"/>
<circle cx="195.2" cy="123.4" r="0.5" fill="#9090a8"/>
<circle cx="192.4" cy="122.7" r="0.5" fill="#9090a8"/>
<circle cx="195.1" cy="121.0" r="0.5" fill="#9090a8"/>
<circle cx="191.4" cy="121.3" r="0.5" fill="#9090a8"/>
<circle cx="194.4" cy="121.3" r="0.5" fill="#9090a8"/>
</g>
<rect x="184.5" y="19.9" width="118.4" height="115.3" fill="none" stroke="#0a0a0a" stroke-width="1.6"/>
<text x="187.3" y="28.8" class="t7" textLength="59.7" lengthAdjust="spacingAndGlyphs">W<tspan font-size="4.6" dy="-2.6">41</tspan><tspan dy="2.6">/W</tspan><tspan font-size="4.6" dy="-2.6">41</tspan><tspan dy="2.6"> LK cells</tspan></text>
<text x="306.5" y="25.3" class="lg">Mapped</text>
<text x="306.5" y="34" class="lg" textLength="21" lengthAdjust="spacingAndGlyphs">cluster</text>
<rect x="306.6" y="36.40" width="3.8" height="3.8" fill="#a4cc8c"/>
<text x="313" y="40.90" class="lg">1</text>
<rect x="306.6" y="44.30" width="3.8" height="3.8" fill="#7a2a80"/>
<text x="313" y="48.80" class="lg">2</text>
<rect x="306.6" y="52.20" width="3.8" height="3.8" fill="#c8a4a0"/>
<text x="313" y="56.70" class="lg">3</text>
<rect x="306.6" y="60.10" width="3.8" height="3.8" fill="#a49cc4"/>
<text x="313" y="64.60" class="lg">4</text>
<rect x="306.6" y="68.00" width="3.8" height="3.8" fill="#3c3290"/>
<text x="313" y="72.50" class="lg">5</text>
<rect x="306.6" y="75.90" width="3.8" height="3.8" fill="#22205e"/>
<text x="313" y="80.40" class="lg">6</text>
<rect x="306.6" y="83.80" width="3.8" height="3.8" fill="#ece04c"/>
<text x="313" y="88.30" class="lg">7</text>
<rect x="306.6" y="91.70" width="3.8" height="3.8" fill="#b47a22"/>
<text x="313" y="96.20" class="lg">8</text>
<rect x="306.6" y="99.60" width="3.8" height="3.8" fill="#b42020"/>
<text x="313" y="104.10" class="lg">9</text>
<rect x="306.6" y="107.50" width="3.8" height="3.8" fill="#6c80c4"/>
<text x="313" y="112.00" class="lg">10</text>
<rect x="306.6" y="115.40" width="3.8" height="3.8" fill="#5e9242"/>
<text x="313" y="119.90" class="lg">11</text>
<rect x="306.6" y="123.30" width="3.8" height="3.8" fill="#c2bab2"/>
<text x="313" y="127.80" class="lg">12</text>
<rect x="306.6" y="131.20" width="3.8" height="3.8" fill="#201420"/>
<text x="313" y="135.70" class="lg">13</text>
<text x="346" y="16.9" class="pl" textLength="7.5" lengthAdjust="spacingAndGlyphs">C</text>
<g id="Cscat">
<g filter="url(#bl1)">
<polygon points="417.6024,28.302 420.48839999999996,28.302 421.8352,37.592 423.3744,46.882 423.182,52.456 420.296,58.03 416.448,63.604 414.7164,61.746 416.0632,46.882" fill="#dadad4"/>
<polygon points="425.106,46.882 428.95399999999995,41.308 431.84,37.1275 436.65,34.805 440.498,32.947 443.384,32.018 446.27,39.45 448.19399999999996,45.953 446.27,51.527 442.42199999999997,56.172000000000004 436.65,58.03 432.802,54.314 427.03,50.598" fill="#dadad4"/>
<polygon points="442.2296,32.018 443.96119999999996,30.16 445.8852,33.876000000000005 447.6168,39.45 448.3864,45.953 446.8472,47.3465 444.92319999999995,40.379" fill="#dadad4"/>
<polygon points="434.726,56.172000000000004 442.42199999999997,53.385000000000005 447.23199999999997,49.669000000000004 450.118,56.172000000000004 453.004,63.604 455.89,70.10700000000001 459.738,76.61000000000001 459.738,83.11300000000001 452.042,82.18400000000001 444.346,78.468 436.65,72.894 431.84,63.604" fill="#dadad4"/>
<polygon points="450.118,65.462 453.966,65.462 458.77599999999995,72.894 462.62399999999997,79.397 463.7784,85.9 463.105,91.474 459.738,91.474 457.81399999999996,85.9 454.928,79.397 451.561,72.894" fill="#dadad4"/>
<polygon points="447.71299999999997,45.953 452.042,48.74 456.852,51.527 461.181,55.243 463.3936,59.888000000000005 463.7784,67.32000000000001 462.62399999999997,72.894 460.219,76.14550000000001 457.33299999999997,71.965 454.447,65.462 451.561,58.959 447.23199999999997,50.598" fill="#dadad4"/>
<polygon points="366.6164,109.40370000000001 369.98339999999996,106.24510000000002 374.12,103.8297 378.2566,100.94980000000001 383.259,98.16280000000002 386.626,94.91130000000001 392.39799999999997,86.82900000000001 397.20799999999997,83.11300000000001 401.056,80.79050000000001 405.866,76.61000000000001 410.676,71.965 415.486,65.462 419.334,60.817 421.258,63.604 417.40999999999997,72.894 413.562,83.11300000000001 407.78999999999996,87.75800000000001 402.018,91.9385 395.284,95.65450000000001 390.474,100.20660000000002 388.3576,101.41430000000001 383.259,104.5729 378.2566,108.19600000000001 373.25419999999997,111.912 369.1176,114.69900000000001 367.0012,115.16350000000001" fill="#dadad4"/>
<polygon points="424.144,48.74 427.99199999999996,47.3465 432.802,47.3465 430.878,51.527 427.03,57.101 423.663,64.533 419.815,71.965 415.967,78.00350000000002 412.59999999999997,80.79050000000001 410.48359999999997,77.53900000000002 413.562,70.10700000000001 416.929,61.746 420.296,54.314" fill="#dadad4"/>
<polygon points="421.258,45.024 436.65,43.166000000000004 448.19399999999996,50.598 459.738,72.894 461.662,85.9 453.966,91.474 442.42199999999997,88.68700000000001 430.878,88.68700000000001 419.334,85.9 413.562,76.61000000000001" fill="#dadad4"/>
<polygon points="447.23199999999997,46.882 457.81399999999996,52.456 463.9708,59.888000000000005 464.16319999999996,76.61000000000001 463.7784,87.75800000000001 461.662,92.403 453.966,91.474 448.19399999999996,67.32000000000001" fill="#dadad4"/>
<polygon points="407.78999999999996,67.32000000000001 417.40999999999997,58.03 423.182,59.888000000000005 419.334,76.61000000000001 411.638,84.04200000000002 403.942,87.75800000000001" fill="#dadad4"/>
<polygon points="421.258,39.45 432.802,39.45 436.65,45.024 428.95399999999995,48.74 423.182,48.74" fill="#e8e8e4" filter="url(#bl2)"/>
<polygon points="367.86699999999996,98.906 371.234,98.906 372.19599999999997,104.48000000000002 368.829,105.409" fill="#d4d4d0"/>
</g>
<polygon points="421.258,50.598 434.726,46.882 446.27,67.32000000000001 448.19399999999996,82.18400000000001 436.65,87.75800000000001 423.182,87.75800000000001 417.40999999999997,76.61000000000001" fill="#ecece8" opacity="0.7" filter="url(#bl2)"/>
<circle cx="421.3" cy="80.2" r="0.5" fill="#cfcfca"/>
<circle cx="441.9" cy="77.3" r="0.5" fill="#d4d4ce"/>
<circle cx="418.6" cy="69.6" r="0.5" fill="#eeeeec"/>
<circle cx="435.0" cy="65.6" r="0.5" fill="#f4f4f2"/>
<circle cx="429.0" cy="76.1" r="0.5" fill="#d4d4ce"/>
<circle cx="434.4" cy="60.8" r="0.5" fill="#cfcfca"/>
<circle cx="439.3" cy="77.8" r="0.5" fill="#cfcfca"/>
<circle cx="421.0" cy="87.0" r="0.5" fill="#cfcfca"/>
<circle cx="442.9" cy="58.6" r="0.5" fill="#cfcfca"/>
<circle cx="419.3" cy="67.1" r="0.5" fill="#f4f4f2"/>
<circle cx="426.1" cy="56.0" r="0.5" fill="#f4f4f2"/>
<circle cx="432.1" cy="61.4" r="0.5" fill="#eeeeec"/>
<circle cx="424.8" cy="69.8" r="0.5" fill="#eeeeec"/>
<circle cx="445.2" cy="77.4" r="0.5" fill="#eeeeec"/>
<circle cx="446.3" cy="66.8" r="0.5" fill="#eeeeec"/>
<circle cx="438.0" cy="55.2" r="0.5" fill="#eeeeec"/>
<circle cx="420.5" cy="56.8" r="0.5" fill="#f4f4f2"/>
<circle cx="429.4" cy="72.9" r="0.5" fill="#f4f4f2"/>
<circle cx="425.0" cy="84.7" r="0.5" fill="#f4f4f2"/>
<circle cx="437.2" cy="54.7" r="0.5" fill="#eeeeec"/>
<circle cx="435.0" cy="80.0" r="0.5" fill="#f4f4f2"/>
<circle cx="426.5" cy="49.4" r="0.5" fill="#eeeeec"/>
<circle cx="435.7" cy="75.9" r="0.5" fill="#cfcfca"/>
<circle cx="426.7" cy="81.2" r="0.5" fill="#d4d4ce"/>
<circle cx="434.8" cy="53.2" r="0.5" fill="#cfcfca"/>
<circle cx="428.8" cy="49.0" r="0.5" fill="#eeeeec"/>
<circle cx="420.3" cy="67.8" r="0.5" fill="#eeeeec"/>
<circle cx="420.4" cy="60.4" r="0.5" fill="#eeeeec"/>
<circle cx="422.1" cy="86.3" r="0.5" fill="#cfcfca"/>
<circle cx="426.3" cy="48.1" r="0.5" fill="#f4f4f2"/>
<circle cx="422.0" cy="72.9" r="0.5" fill="#cfcfca"/>
<circle cx="439.0" cy="60.6" r="0.5" fill="#eeeeec"/>
<circle cx="441.8" cy="67.0" r="0.5" fill="#d4d4ce"/>
<circle cx="419.9" cy="82.0" r="0.5" fill="#cfcfca"/>
<circle cx="445.1" cy="78.2" r="0.5" fill="#eeeeec"/>
<circle cx="429.7" cy="81.8" r="0.5" fill="#cfcfca"/>
<circle cx="440.0" cy="71.5" r="0.5" fill="#f4f4f2"/>
<circle cx="417.7" cy="79.9" r="0.5" fill="#cfcfca"/>
<circle cx="440.0" cy="82.8" r="0.5" fill="#eeeeec"/>
<circle cx="422.0" cy="65.4" r="0.5" fill="#eeeeec"/>
<circle cx="444.2" cy="70.7" r="0.5" fill="#f4f4f2"/>
<circle cx="428.3" cy="80.0" r="0.5" fill="#cfcfca"/>
<circle cx="442.5" cy="63.1" r="0.5" fill="#f4f4f2"/>
<circle cx="423.0" cy="75.0" r="0.5" fill="#cfcfca"/>
<circle cx="437.2" cy="85.3" r="0.5" fill="#d4d4ce"/>
<circle cx="419.1" cy="81.3" r="0.5" fill="#d4d4ce"/>
<circle cx="428.9" cy="58.4" r="0.5" fill="#eeeeec"/>
<circle cx="426.5" cy="54.6" r="0.5" fill="#cfcfca"/>
<circle cx="428.4" cy="65.8" r="0.5" fill="#f4f4f2"/>
<circle cx="425.0" cy="48.9" r="0.5" fill="#cfcfca"/>
<circle cx="421.6" cy="84.7" r="0.5" fill="#d4d4ce"/>
<circle cx="437.1" cy="81.0" r="0.5" fill="#f4f4f2"/>
<circle cx="422.6" cy="73.0" r="0.5" fill="#d4d4ce"/>
<circle cx="424.4" cy="87.7" r="0.5" fill="#cfcfca"/>
<circle cx="421.0" cy="60.7" r="0.5" fill="#d4d4ce"/>
<circle cx="425.6" cy="59.2" r="0.5" fill="#eeeeec"/>
<circle cx="423.5" cy="70.2" r="0.5" fill="#cfcfca"/>
<circle cx="439.6" cy="75.2" r="0.5" fill="#d4d4ce"/>
<circle cx="419.9" cy="78.6" r="0.5" fill="#cfcfca"/>
<circle cx="437.3" cy="48.4" r="0.5" fill="#cfcfca"/>
<circle cx="430.0" cy="87.7" r="0.5" fill="#cfcfca"/>
<circle cx="425.5" cy="76.7" r="0.5" fill="#d4d4ce"/>
<circle cx="446.2" cy="81.1" r="0.5" fill="#f4f4f2"/>
<circle cx="445.2" cy="67.2" r="0.5" fill="#cfcfca"/>
<circle cx="444.1" cy="84.6" r="0.5" fill="#f4f4f2"/>
<circle cx="433.7" cy="65.0" r="0.5" fill="#eeeeec"/>
<circle cx="439.3" cy="78.5" r="0.5" fill="#f4f4f2"/>
<circle cx="446.5" cy="66.5" r="0.5" fill="#f4f4f2"/>
<circle cx="446.7" cy="84.8" r="0.5" fill="#eeeeec"/>
<circle cx="421.6" cy="86.0" r="0.5" fill="#f4f4f2"/>
<circle cx="434.8" cy="88.8" r="0.5" fill="#eeeeec"/>
<circle cx="425.0" cy="69.3" r="0.5" fill="#d4d4ce"/>
<circle cx="433.4" cy="63.2" r="0.5" fill="#f4f4f2"/>
<circle cx="441.8" cy="75.2" r="0.5" fill="#d4d4ce"/>
<circle cx="431.6" cy="88.5" r="0.5" fill="#cfcfca"/>
<circle cx="438.1" cy="57.4" r="0.5" fill="#eeeeec"/>
<circle cx="442.7" cy="67.1" r="0.5" fill="#f4f4f2"/>
<circle cx="441.4" cy="60.5" r="0.5" fill="#eeeeec"/>
<circle cx="422.1" cy="81.0" r="0.5" fill="#f4f4f2"/>
<circle cx="420.8" cy="77.9" r="0.5" fill="#eeeeec"/>
<circle cx="437.8" cy="85.5" r="0.5" fill="#cfcfca"/>
<circle cx="447.3" cy="79.7" r="0.5" fill="#cfcfca"/>
<circle cx="425.6" cy="87.1" r="0.5" fill="#eeeeec"/>
<circle cx="435.8" cy="86.4" r="0.5" fill="#d4d4ce"/>
<circle cx="428.4" cy="62.2" r="0.5" fill="#d4d4ce"/>
<circle cx="424.2" cy="54.1" r="0.5" fill="#d4d4ce"/>
<circle cx="431.9" cy="63.2" r="0.5" fill="#eeeeec"/>
<circle cx="441.0" cy="59.1" r="0.5" fill="#eeeeec"/>
<circle cx="424.6" cy="68.9" r="0.5" fill="#d4d4ce"/>
<circle cx="440.1" cy="57.3" r="0.5" fill="#cfcfca"/>
<circle cx="438.9" cy="62.7" r="0.5" fill="#cfcfca"/>
<circle cx="432.9" cy="76.2" r="0.5" fill="#cfcfca"/>
<circle cx="427.1" cy="86.9" r="0.5" fill="#cfcfca"/>
<circle cx="435.2" cy="82.0" r="0.5" fill="#f4f4f2"/>
<circle cx="421.3" cy="77.3" r="0.5" fill="#f4f4f2"/>
<circle cx="440.8" cy="62.6" r="0.5" fill="#cfcfca"/>
<circle cx="428.6" cy="67.3" r="0.5" fill="#cfcfca"/>
<circle cx="426.9" cy="53.3" r="0.5" fill="#eeeeec"/>
<circle cx="432.9" cy="68.3" r="0.5" fill="#cfcfca"/>
<circle cx="419.9" cy="60.1" r="0.5" fill="#f4f4f2"/>
<circle cx="423.2" cy="64.3" r="0.5" fill="#eeeeec"/>
<circle cx="434.3" cy="57.2" r="0.5" fill="#eeeeec"/>
<circle cx="420.4" cy="75.0" r="0.5" fill="#eeeeec"/>
<circle cx="431.9" cy="85.1" r="0.5" fill="#f4f4f2"/>
<circle cx="439.8" cy="81.6" r="0.5" fill="#d4d4ce"/>
<circle cx="438.5" cy="76.4" r="0.5" fill="#cfcfca"/>
<circle cx="438.8" cy="79.4" r="0.5" fill="#cfcfca"/>
<circle cx="435.4" cy="85.3" r="0.5" fill="#cfcfca"/>
<circle cx="418.6" cy="75.2" r="0.5" fill="#f4f4f2"/>
<circle cx="427.3" cy="76.2" r="0.5" fill="#f4f4f2"/>
<circle cx="422.6" cy="65.4" r="0.5" fill="#eeeeec"/>
<circle cx="430.1" cy="67.5" r="0.5" fill="#d4d4ce"/>
<circle cx="434.8" cy="71.6" r="0.5" fill="#f4f4f2"/>
<circle cx="436.1" cy="60.2" r="0.5" fill="#cfcfca"/>
<circle cx="432.8" cy="55.3" r="0.5" fill="#eeeeec"/>
<circle cx="424.7" cy="88.5" r="0.5" fill="#f4f4f2"/>
<circle cx="422.8" cy="52.7" r="0.5" fill="#cfcfca"/>
<circle cx="429.4" cy="47.8" r="0.5" fill="#cfcfca"/>
<circle cx="439.2" cy="71.1" r="0.5" fill="#d4d4ce"/>
<circle cx="428.3" cy="87.6" r="0.5" fill="#d4d4ce"/>
<circle cx="422.9" cy="83.7" r="0.5" fill="#f4f4f2"/>
<circle cx="419.9" cy="65.3" r="0.5" fill="#d4d4ce"/>
<circle cx="421.7" cy="72.5" r="0.5" fill="#f4f4f2"/>
<circle cx="428.7" cy="57.6" r="0.5" fill="#eeeeec"/>
<circle cx="441.3" cy="78.2" r="0.5" fill="#cfcfca"/>
<circle cx="422.1" cy="78.7" r="0.5" fill="#cfcfca"/>
<circle cx="439.9" cy="87.3" r="0.5" fill="#f4f4f2"/>
<circle cx="439.1" cy="73.1" r="0.5" fill="#cfcfca"/>
<circle cx="433.7" cy="73.0" r="0.5" fill="#cfcfca"/>
<circle cx="427.1" cy="85.1" r="0.5" fill="#d4d4ce"/>
<circle cx="440.8" cy="60.3" r="0.5" fill="#eeeeec"/>
<circle cx="427.4" cy="84.5" r="0.5" fill="#d4d4ce"/>
<circle cx="441.5" cy="66.3" r="0.5" fill="#eeeeec"/>
<circle cx="443.3" cy="68.6" r="0.5" fill="#cfcfca"/>
<circle cx="432.1" cy="54.4" r="0.5" fill="#cfcfca"/>
<circle cx="437.0" cy="86.8" r="0.5" fill="#eeeeec"/>
<circle cx="438.7" cy="87.2" r="0.5" fill="#d4d4ce"/>
<circle cx="440.8" cy="77.4" r="0.5" fill="#eeeeec"/>
<circle cx="442.0" cy="82.5" r="0.5" fill="#eeeeec"/>
<circle cx="439.3" cy="68.7" r="0.5" fill="#f4f4f2"/>
<circle cx="441.2" cy="65.7" r="0.5" fill="#f4f4f2"/>
<circle cx="422.2" cy="70.6" r="0.5" fill="#f4f4f2"/>
<circle cx="443.6" cy="60.1" r="0.5" fill="#d4d4ce"/>
<circle cx="431.3" cy="73.5" r="0.5" fill="#eeeeec"/>
<circle cx="427.1" cy="84.3" r="0.5" fill="#f4f4f2"/>
<circle cx="434.8" cy="50.7" r="0.5" fill="#eeeeec"/>
<circle cx="429.9" cy="70.5" r="0.5" fill="#d4d4ce"/>
<circle cx="440.4" cy="70.4" r="0.5" fill="#f4f4f2"/>
<circle cx="436.8" cy="83.5" r="0.5" fill="#eeeeec"/>
<circle cx="438.9" cy="66.0" r="0.5" fill="#d4d4ce"/>
<circle cx="435.3" cy="50.3" r="0.5" fill="#d4d4ce"/>
<circle cx="435.1" cy="47.8" r="0.5" fill="#eeeeec"/>
<circle cx="441.7" cy="84.7" r="0.5" fill="#f4f4f2"/>
<circle cx="428.3" cy="80.2" r="0.5" fill="#eeeeec"/>
<circle cx="436.2" cy="78.1" r="0.5" fill="#f4f4f2"/>
<circle cx="423.4" cy="85.5" r="0.5" fill="#eeeeec"/>
<circle cx="437.5" cy="86.5" r="0.5" fill="#d4d4ce"/>
<circle cx="424.1" cy="51.9" r="0.5" fill="#f4f4f2"/>
<circle cx="431.1" cy="87.7" r="0.5" fill="#f4f4f2"/>
<circle cx="421.6" cy="81.0" r="0.5" fill="#eeeeec"/>
<circle cx="448.9" cy="91.8" r="0.45" fill="#dcdcd8"/>
<circle cx="454.4" cy="98.7" r="0.45" fill="#d0d0cc"/>
<circle cx="446.3" cy="100.6" r="0.45" fill="#d0d0cc"/>
<circle cx="451.0" cy="101.8" r="0.45" fill="#dcdcd8"/>
<circle cx="445.3" cy="102.1" r="0.45" fill="#d0d0cc"/>
<circle cx="453.5" cy="95.8" r="0.45" fill="#d0d0cc"/>
<circle cx="451.1" cy="104.1" r="0.45" fill="#dcdcd8"/>
<circle cx="457.4" cy="100.4" r="0.45" fill="#d0d0cc"/>
<circle cx="447.3" cy="92.7" r="0.45" fill="#d0d0cc"/>
<circle cx="436.8" cy="89.3" r="0.45" fill="#d0d0cc"/>
<circle cx="436.8" cy="90.3" r="0.45" fill="#dcdcd8"/>
<circle cx="452.3" cy="86.6" r="0.45" fill="#dcdcd8"/>
<circle cx="436.5" cy="85.6" r="0.45" fill="#d0d0cc"/>
<circle cx="446.7" cy="95.7" r="0.45" fill="#dcdcd8"/>
<circle cx="456.1" cy="99.3" r="0.45" fill="#d0d0cc"/>
<circle cx="454.1" cy="103.5" r="0.45" fill="#d0d0cc"/>
<circle cx="450.2" cy="86.2" r="0.45" fill="#dcdcd8"/>
<circle cx="449.0" cy="90.9" r="0.45" fill="#dcdcd8"/>
<circle cx="451.0" cy="89.7" r="0.45" fill="#dcdcd8"/>
<circle cx="443.6" cy="87.0" r="0.45" fill="#d0d0cc"/>
<circle cx="452.1" cy="90.3" r="0.45" fill="#d0d0cc"/>
<circle cx="442.6" cy="98.4" r="0.45" fill="#dcdcd8"/>
<circle cx="452.5" cy="105.2" r="0.45" fill="#dcdcd8"/>
<circle cx="453.1" cy="98.0" r="0.45" fill="#d0d0cc"/>
<circle cx="444.5" cy="92.2" r="0.45" fill="#d0d0cc"/>
<circle cx="447.1" cy="110.9" r="0.45" fill="#d0d0cc"/>
<circle cx="439.6" cy="83.8" r="0.45" fill="#d0d0cc"/>
<circle cx="439.6" cy="90.7" r="0.45" fill="#d0d0cc"/>
<circle cx="451.2" cy="95.0" r="0.45" fill="#d0d0cc"/>
<circle cx="444.8" cy="102.6" r="0.45" fill="#dcdcd8"/>
<circle cx="433.5" cy="84.0" r="0.45" fill="#e090a8"/>
<circle cx="435.6" cy="81.5" r="0.45" fill="#eab0c0"/>
<circle cx="432.4" cy="89.9" r="0.45" fill="#f4d0da"/>
<circle cx="432.4" cy="89.5" r="0.45" fill="#f4d0da"/>
<circle cx="426.7" cy="81.1" r="0.45" fill="#e090a8"/>
<circle cx="429.0" cy="81.0" r="0.45" fill="#eab0c0"/>
<circle cx="431.4" cy="81.2" r="0.45" fill="#eab0c0"/>
<circle cx="427.4" cy="81.8" r="0.45" fill="#e090a8"/>
<circle cx="432.5" cy="88.2" r="0.45" fill="#e090a8"/>
<circle cx="435.2" cy="87.2" r="0.45" fill="#eab0c0"/>
<circle cx="428.5" cy="86.3" r="0.45" fill="#f4d0da"/>
<circle cx="432.9" cy="87.1" r="0.45" fill="#f4d0da"/>
<circle cx="434.8" cy="93.8" r="0.45" fill="#e090a8"/>
<circle cx="429.4" cy="93.3" r="0.45" fill="#eab0c0"/>
<circle cx="429.9" cy="92.6" r="0.45" fill="#eab0c0"/>
<circle cx="434.6" cy="92.8" r="0.45" fill="#f4d0da"/>
<circle cx="429.4" cy="90.0" r="0.45" fill="#eab0c0"/>
<circle cx="426.7" cy="81.4" r="0.45" fill="#f4d0da"/>
<circle cx="432.6" cy="85.0" r="0.45" fill="#e090a8"/>
<circle cx="427.8" cy="82.3" r="0.45" fill="#eab0c0"/>
<circle cx="434.4" cy="80.9" r="0.45" fill="#e090a8"/>
<circle cx="432.5" cy="89.1" r="0.45" fill="#eab0c0"/>
<path d="M429.8 83 L432.4 83 L432.1 91 L431.7 99 L430.8 91 Z" fill="#e08aa2" opacity="0.9" filter="url(#bl1)"/>
<path d="M430.9 89 L432.1 89 L431.8 98.5 Z" fill="#a02040" opacity="0.8"/>
<path d="M433 86 Q441 100 444 122" fill="none" stroke="#ece6e8" stroke-width="0.7" stroke-dasharray="1.5 1.5"/>
<path d="M420 92 Q419 105 420 124" fill="none" stroke="#e6e4e2" stroke-width="0.8" stroke-dasharray="2 1"/>
</g>
<rect x="358.5" y="20.4" width="112.4" height="109.9" fill="none" stroke="#0a0a0a" stroke-width="1.6"/>
<rect x="491.9" y="27.9" width="2.9" height="62.9" fill="url(#cbar)" stroke="#1a1a1a" stroke-width="0.7"/>
<line x1="491.5" y1="90.8" x2="495" y2="90.8" stroke="#111" stroke-width="1"/>
<line x1="494.8" y1="31.4" x2="497" y2="31.4" stroke="#222" stroke-width="0.9"/>
<text x="500.2" y="34.1" class="lg">75</text>
<line x1="494.8" y1="51.2" x2="497" y2="51.2" stroke="#222" stroke-width="0.9"/>
<text x="500.2" y="53.900000000000006" class="lg">50</text>
<line x1="494.8" y1="70.5" x2="497" y2="70.5" stroke="#222" stroke-width="0.9"/>
<text x="500.2" y="73.2" class="lg">25</text>
<line x1="494.8" y1="89.8" x2="497" y2="89.8" stroke="#222" stroke-width="0.9"/>
<text x="500.2" y="92.5" class="lg">0</text>
<text x="496.6" y="104.3" class="lg" text-anchor="middle">Nearest</text>
<text x="496.8" y="114" class="lg" text-anchor="middle">neighbor</text>
<text x="497.8" y="123.8" class="lg" text-anchor="middle">score</text>
<text x="353.6" y="144" font-size="8" fill="#333" textLength="158" lengthAdjust="spacingAndGlyphs">Nearest neighbors of W<tspan font-size="5.2" dy="-3">41</tspan><tspan dy="3">/W</tspan><tspan font-size="5.2" dy="-3">41</tspan><tspan dy="3"> cluster 9 cells</tspan></text>
<text x="7.5" y="170.3" class="pl" textLength="7.5" lengthAdjust="spacingAndGlyphs">D</text>
<g id="Dscat">
<clipPath id="clipD"><rect x="36.5" y="182.4" width="89.4" height="89.3"/></clipPath>
<g clip-path="url(#clipD)">
<polygon points="36,229 45,226 52,223 60,220 68,218 76,218 84,222 90,231 94,244 95,258 94,272 36,272" fill="#dcdcf2" opacity="0.9" filter="url(#bl2)"/>
<polygon points="36,231 45,228 53,225 61,222 68,220.5 76,221 83,225 88,233 91,245 92,260 91,272 36,272" fill="#9a9cd8" opacity="0.85" filter="url(#bl2)"/>
<polygon points="36,234 45,229.5 55,226 65,224.5 71,226 77,231 81,239 84,250 85.5,262 85.5,272 36,272" fill="#2a3298" filter="url(#bl1)"/>
<polygon points="72,262 80,256 86,258 88,272 70,272" fill="#5a62bc" opacity="0.55" filter="url(#bl2)"/>
</g>
<circle cx="39.1" cy="238.6" r="0.45" fill="#4c56b8"/>
<circle cx="72.1" cy="231.1" r="0.45" fill="#4c56b8"/>
<circle cx="54.5" cy="232.4" r="0.45" fill="#222c94"/>
<circle cx="79.6" cy="267.7" r="0.45" fill="#3440a8"/>
<circle cx="50.3" cy="242.6" r="0.45" fill="#222c94"/>
<circle cx="47.2" cy="233.7" r="0.45" fill="#3440a8"/>
<circle cx="74.1" cy="265.0" r="0.45" fill="#3440a8"/>
<circle cx="68.1" cy="246.9" r="0.45" fill="#222c94"/>
<circle cx="38.5" cy="256.0" r="0.45" fill="#4c56b8"/>
<circle cx="57.9" cy="230.0" r="0.45" fill="#7a80cc"/>
<circle cx="63.8" cy="247.9" r="0.45" fill="#7a80cc"/>
<circle cx="41.9" cy="247.3" r="0.45" fill="#3440a8"/>
<circle cx="81.5" cy="244.7" r="0.45" fill="#222c94"/>
<circle cx="54.1" cy="246.8" r="0.45" fill="#4c56b8"/>
<circle cx="63.7" cy="227.9" r="0.45" fill="#3440a8"/>
<circle cx="60.2" cy="234.8" r="0.45" fill="#222c94"/>
<circle cx="79.5" cy="270.2" r="0.45" fill="#7a80cc"/>
<circle cx="41.5" cy="269.3" r="0.45" fill="#222c94"/>
<circle cx="38.8" cy="249.3" r="0.45" fill="#222c94"/>
<circle cx="40.2" cy="237.1" r="0.45" fill="#7a80cc"/>
<circle cx="75.3" cy="230.8" r="0.45" fill="#7a80cc"/>
<circle cx="67.5" cy="229.2" r="0.45" fill="#4c56b8"/>
<circle cx="69.1" cy="241.7" r="0.45" fill="#222c94"/>
<circle cx="71.2" cy="247.1" r="0.45" fill="#4c56b8"/>
<circle cx="68.6" cy="248.9" r="0.45" fill="#222c94"/>
<circle cx="68.2" cy="257.1" r="0.45" fill="#222c94"/>
<circle cx="62.9" cy="235.6" r="0.45" fill="#7a80cc"/>
<circle cx="69.2" cy="231.1" r="0.45" fill="#4c56b8"/>
<circle cx="43.3" cy="262.7" r="0.45" fill="#4c56b8"/>
<circle cx="73.0" cy="265.2" r="0.45" fill="#4c56b8"/>
<circle cx="68.8" cy="255.4" r="0.45" fill="#3440a8"/>
<circle cx="36.8" cy="246.3" r="0.45" fill="#222c94"/>
<circle cx="58.5" cy="264.9" r="0.45" fill="#4c56b8"/>
<circle cx="58.0" cy="231.2" r="0.45" fill="#3440a8"/>
<circle cx="51.2" cy="239.4" r="0.45" fill="#3440a8"/>
<circle cx="59.9" cy="248.8" r="0.45" fill="#7a80cc"/>
<circle cx="69.6" cy="234.6" r="0.45" fill="#3440a8"/>
<circle cx="45.6" cy="246.8" r="0.45" fill="#4c56b8"/>
<circle cx="47.3" cy="270.2" r="0.45" fill="#4c56b8"/>
<circle cx="37.6" cy="232.9" r="0.45" fill="#7a80cc"/>
<circle cx="54.7" cy="232.2" r="0.45" fill="#222c94"/>
<circle cx="43.7" cy="263.1" r="0.45" fill="#222c94"/>
<circle cx="58.7" cy="251.2" r="0.45" fill="#7a80cc"/>
<circle cx="42.9" cy="235.9" r="0.45" fill="#222c94"/>
<circle cx="49.7" cy="244.3" r="0.45" fill="#3440a8"/>
<circle cx="52.1" cy="260.3" r="0.45" fill="#3440a8"/>
<circle cx="47.7" cy="232.5" r="0.45" fill="#222c94"/>
<circle cx="77.0" cy="262.0" r="0.45" fill="#4c56b8"/>
<circle cx="80.4" cy="255.9" r="0.45" fill="#3440a8"/>
<circle cx="38.6" cy="268.0" r="0.45" fill="#222c94"/>
<circle cx="84.4" cy="267.4" r="0.45" fill="#222c94"/>
<circle cx="50.4" cy="270.4" r="0.45" fill="#3440a8"/>
<circle cx="57.0" cy="249.6" r="0.45" fill="#4c56b8"/>
<circle cx="76.4" cy="255.5" r="0.45" fill="#222c94"/>
<circle cx="65.2" cy="245.7" r="0.45" fill="#7a80cc"/>
<circle cx="68.9" cy="252.3" r="0.45" fill="#4c56b8"/>
<circle cx="80.9" cy="270.2" r="0.45" fill="#3440a8"/>
<circle cx="57.8" cy="252.6" r="0.45" fill="#4c56b8"/>
<circle cx="64.5" cy="233.1" r="0.45" fill="#4c56b8"/>
<circle cx="68.2" cy="244.1" r="0.45" fill="#222c94"/>
<circle cx="48.9" cy="263.5" r="0.45" fill="#222c94"/>
<circle cx="67.2" cy="246.9" r="0.45" fill="#4c56b8"/>
<circle cx="59.8" cy="256.7" r="0.45" fill="#3440a8"/>
<circle cx="59.3" cy="239.9" r="0.45" fill="#3440a8"/>
<circle cx="56.1" cy="230.9" r="0.45" fill="#3440a8"/>
<circle cx="54.5" cy="258.1" r="0.45" fill="#7a80cc"/>
<circle cx="69.2" cy="260.9" r="0.45" fill="#3440a8"/>
<circle cx="61.5" cy="266.5" r="0.45" fill="#222c94"/>
<circle cx="57.0" cy="228.2" r="0.45" fill="#222c94"/>
<circle cx="58.7" cy="240.3" r="0.45" fill="#222c94"/>
<circle cx="53.8" cy="258.0" r="0.45" fill="#7a80cc"/>
<circle cx="51.7" cy="263.0" r="0.45" fill="#222c94"/>
<circle cx="69.8" cy="261.6" r="0.45" fill="#7a80cc"/>
<circle cx="54.5" cy="270.2" r="0.45" fill="#4c56b8"/>
<circle cx="77.8" cy="255.0" r="0.45" fill="#3440a8"/>
<circle cx="71.2" cy="270.4" r="0.45" fill="#3440a8"/>
<circle cx="54.5" cy="264.9" r="0.45" fill="#4c56b8"/>
<circle cx="58.7" cy="256.1" r="0.45" fill="#222c94"/>
<circle cx="38.3" cy="267.1" r="0.45" fill="#222c94"/>
<circle cx="62.7" cy="259.0" r="0.45" fill="#4c56b8"/>
<circle cx="37.5" cy="262.4" r="0.45" fill="#3440a8"/>
<circle cx="40.3" cy="236.3" r="0.45" fill="#3440a8"/>
<circle cx="47.5" cy="237.1" r="0.45" fill="#3440a8"/>
<circle cx="82.7" cy="270.6" r="0.45" fill="#3440a8"/>
<circle cx="59.5" cy="228.0" r="0.45" fill="#4c56b8"/>
<circle cx="52.0" cy="244.3" r="0.45" fill="#7a80cc"/>
<circle cx="79.7" cy="240.3" r="0.45" fill="#222c94"/>
<circle cx="49.2" cy="237.1" r="0.45" fill="#222c94"/>
<circle cx="67.2" cy="257.6" r="0.45" fill="#4c56b8"/>
<circle cx="42.6" cy="265.7" r="0.45" fill="#4c56b8"/>
<circle cx="53.1" cy="247.9" r="0.45" fill="#3440a8"/>
<circle cx="66.3" cy="271.5" r="0.45" fill="#222c94"/>
<circle cx="73.6" cy="264.3" r="0.45" fill="#7a80cc"/>
<circle cx="55.3" cy="258.6" r="0.45" fill="#3440a8"/>
<circle cx="51.6" cy="227.9" r="0.45" fill="#7a80cc"/>
<circle cx="40.7" cy="252.3" r="0.45" fill="#3440a8"/>
<circle cx="75.7" cy="246.0" r="0.45" fill="#7a80cc"/>
<circle cx="75.6" cy="235.5" r="0.45" fill="#222c94"/>
<circle cx="77.2" cy="246.9" r="0.45" fill="#7a80cc"/>
<circle cx="42.9" cy="233.7" r="0.45" fill="#222c94"/>
<circle cx="46.8" cy="264.4" r="0.45" fill="#7a80cc"/>
<circle cx="48.0" cy="236.8" r="0.45" fill="#7a80cc"/>
<circle cx="62.1" cy="240.3" r="0.45" fill="#222c94"/>
<circle cx="37.5" cy="258.9" r="0.45" fill="#3440a8"/>
<circle cx="61.6" cy="234.5" r="0.45" fill="#7a80cc"/>
<circle cx="66.7" cy="267.3" r="0.45" fill="#3440a8"/>
<circle cx="85.3" cy="271.8" r="0.45" fill="#4c56b8"/>
<circle cx="59.1" cy="240.6" r="0.45" fill="#4c56b8"/>
<circle cx="55.8" cy="249.3" r="0.45" fill="#4c56b8"/>
<circle cx="38.8" cy="253.4" r="0.45" fill="#222c94"/>
<circle cx="50.7" cy="239.9" r="0.45" fill="#3440a8"/>
<circle cx="43.6" cy="268.8" r="0.45" fill="#3440a8"/>
<circle cx="59.1" cy="233.9" r="0.45" fill="#222c94"/>
<circle cx="75.3" cy="258.6" r="0.45" fill="#4c56b8"/>
<circle cx="70.3" cy="247.1" r="0.45" fill="#4c56b8"/>
<circle cx="74.8" cy="229.5" r="0.45" fill="#222c94"/>
<circle cx="67.2" cy="245.3" r="0.45" fill="#222c94"/>
<circle cx="48.6" cy="256.3" r="0.45" fill="#3440a8"/>
<circle cx="58.5" cy="265.0" r="0.45" fill="#7a80cc"/>
<circle cx="74.5" cy="242.2" r="0.45" fill="#7a80cc"/>
<circle cx="75.0" cy="258.9" r="0.45" fill="#4c56b8"/>
<circle cx="66.9" cy="229.5" r="0.45" fill="#7a80cc"/>
<circle cx="40.4" cy="268.3" r="0.45" fill="#3440a8"/>
<circle cx="37.9" cy="271.1" r="0.45" fill="#222c94"/>
<circle cx="42.4" cy="246.6" r="0.45" fill="#222c94"/>
<circle cx="37.8" cy="255.7" r="0.45" fill="#4c56b8"/>
<circle cx="57.9" cy="228.6" r="0.45" fill="#7a80cc"/>
<circle cx="70.9" cy="258.5" r="0.45" fill="#222c94"/>
<circle cx="37.6" cy="267.7" r="0.45" fill="#3440a8"/>
<circle cx="62.5" cy="257.8" r="0.45" fill="#4c56b8"/>
<circle cx="44.2" cy="249.8" r="0.45" fill="#7a80cc"/>
<circle cx="44.5" cy="232.7" r="0.45" fill="#7a80cc"/>
<circle cx="71.4" cy="241.7" r="0.45" fill="#3440a8"/>
<circle cx="58.9" cy="250.7" r="0.45" fill="#222c94"/>
<circle cx="49.0" cy="259.7" r="0.45" fill="#7a80cc"/>
<circle cx="59.6" cy="269.9" r="0.45" fill="#222c94"/>
<circle cx="76.5" cy="260.5" r="0.45" fill="#7a80cc"/>
<circle cx="71.8" cy="259.4" r="0.45" fill="#3440a8"/>
<circle cx="73.4" cy="268.0" r="0.45" fill="#7a80cc"/>
<circle cx="41.4" cy="263.1" r="0.45" fill="#4c56b8"/>
<circle cx="61.6" cy="263.2" r="0.45" fill="#3440a8"/>
<circle cx="51.7" cy="259.1" r="0.45" fill="#4c56b8"/>
<circle cx="70.1" cy="255.8" r="0.45" fill="#222c94"/>
<circle cx="77.1" cy="265.5" r="0.45" fill="#222c94"/>
<circle cx="53.2" cy="261.9" r="0.45" fill="#4c56b8"/>
<circle cx="66.3" cy="267.2" r="0.45" fill="#4c56b8"/>
<circle cx="47.4" cy="239.6" r="0.45" fill="#4c56b8"/>
<circle cx="66.9" cy="243.2" r="0.45" fill="#4c56b8"/>
<circle cx="41.5" cy="235.3" r="0.45" fill="#7a80cc"/>
<circle cx="73.8" cy="261.1" r="0.45" fill="#222c94"/>
<circle cx="73.8" cy="236.1" r="0.45" fill="#222c94"/>
<circle cx="73.7" cy="263.1" r="0.45" fill="#4c56b8"/>
<circle cx="61.2" cy="240.0" r="0.45" fill="#7a80cc"/>
<circle cx="63.0" cy="240.5" r="0.45" fill="#222c94"/>
<circle cx="53.3" cy="264.6" r="0.45" fill="#4c56b8"/>
<circle cx="82.9" cy="259.9" r="0.45" fill="#222c94"/>
<circle cx="68.6" cy="226.8" r="0.45" fill="#222c94"/>
<circle cx="85.0" cy="269.4" r="0.45" fill="#7a80cc"/>
<circle cx="75.1" cy="261.7" r="0.45" fill="#3440a8"/>
<circle cx="72.5" cy="241.6" r="0.45" fill="#222c94"/>
<circle cx="41.0" cy="240.0" r="0.45" fill="#222c94"/>
<circle cx="54.5" cy="253.7" r="0.45" fill="#7a80cc"/>
<circle cx="73.1" cy="233.9" r="0.45" fill="#7a80cc"/>
<circle cx="68.0" cy="239.3" r="0.45" fill="#7a80cc"/>
<circle cx="67.6" cy="267.0" r="0.45" fill="#7a80cc"/>
<circle cx="51.9" cy="240.9" r="0.45" fill="#4c56b8"/>
<circle cx="73.0" cy="241.2" r="0.45" fill="#222c94"/>
<circle cx="66.0" cy="271.9" r="0.45" fill="#222c94"/>
<circle cx="39.4" cy="245.7" r="0.45" fill="#222c94"/>
<circle cx="80.0" cy="256.1" r="0.45" fill="#3440a8"/>
<circle cx="46.4" cy="250.3" r="0.45" fill="#222c94"/>
<circle cx="68.7" cy="251.5" r="0.45" fill="#7a80cc"/>
<circle cx="65.5" cy="245.0" r="0.45" fill="#3440a8"/>
<circle cx="57.5" cy="228.9" r="0.45" fill="#222c94"/>
<circle cx="50.5" cy="249.0" r="0.45" fill="#4c56b8"/>
<circle cx="41.1" cy="262.2" r="0.45" fill="#222c94"/>
<circle cx="76.1" cy="234.9" r="0.45" fill="#7a80cc"/>
<circle cx="43.9" cy="254.8" r="0.45" fill="#222c94"/>
<circle cx="51.1" cy="240.1" r="0.45" fill="#3440a8"/>
<circle cx="60.6" cy="260.2" r="0.45" fill="#222c94"/>
<circle cx="69.4" cy="231.3" r="0.45" fill="#7a80cc"/>
<circle cx="75.8" cy="233.2" r="0.45" fill="#222c94"/>
<circle cx="64.5" cy="227.0" r="0.45" fill="#222c94"/>
<circle cx="61.1" cy="267.2" r="0.45" fill="#3440a8"/>
<circle cx="61.5" cy="268.8" r="0.45" fill="#222c94"/>
<circle cx="46.7" cy="231.8" r="0.45" fill="#7a80cc"/>
<circle cx="76.2" cy="244.6" r="0.45" fill="#222c94"/>
<circle cx="70.4" cy="253.2" r="0.45" fill="#3440a8"/>
<circle cx="57.0" cy="248.9" r="0.45" fill="#7a80cc"/>
<circle cx="38.7" cy="261.3" r="0.45" fill="#4c56b8"/>
<circle cx="75.1" cy="250.1" r="0.45" fill="#3440a8"/>
<circle cx="61.8" cy="232.8" r="0.45" fill="#222c94"/>
<circle cx="44.7" cy="265.9" r="0.45" fill="#222c94"/>
<circle cx="72.1" cy="229.7" r="0.45" fill="#7a80cc"/>
<circle cx="71.6" cy="258.3" r="0.45" fill="#4c56b8"/>
<circle cx="77.8" cy="244.7" r="0.45" fill="#222c94"/>
<circle cx="38.6" cy="269.3" r="0.45" fill="#7a80cc"/>
<circle cx="79.5" cy="265.8" r="0.45" fill="#222c94"/>
<circle cx="69.9" cy="231.3" r="0.45" fill="#7a80cc"/>
<circle cx="44.6" cy="234.8" r="0.45" fill="#222c94"/>
<circle cx="52.8" cy="260.9" r="0.45" fill="#3440a8"/>
<circle cx="79.5" cy="241.4" r="0.45" fill="#7a80cc"/>
<circle cx="51.2" cy="232.2" r="0.45" fill="#3440a8"/>
<circle cx="58.3" cy="231.3" r="0.45" fill="#222c94"/>
<circle cx="51.8" cy="248.5" r="0.45" fill="#3440a8"/>
<circle cx="56.9" cy="264.4" r="0.45" fill="#222c94"/>
<circle cx="60.3" cy="269.4" r="0.45" fill="#7a80cc"/>
<circle cx="61.9" cy="246.9" r="0.45" fill="#222c94"/>
<circle cx="43.2" cy="232.5" r="0.45" fill="#222c94"/>
<circle cx="53.6" cy="242.7" r="0.45" fill="#222c94"/>
<circle cx="56.2" cy="241.3" r="0.45" fill="#7a80cc"/>
<circle cx="52.8" cy="258.0" r="0.45" fill="#7a80cc"/>
<circle cx="68.3" cy="246.6" r="0.45" fill="#222c94"/>
<circle cx="63.4" cy="226.5" r="0.45" fill="#7a80cc"/>
<circle cx="53.7" cy="254.4" r="0.45" fill="#7a80cc"/>
<circle cx="83.6" cy="253.9" r="0.45" fill="#3440a8"/>
<circle cx="63.7" cy="256.0" r="0.45" fill="#222c94"/>
<circle cx="54.3" cy="264.9" r="0.45" fill="#4c56b8"/>
<circle cx="65.5" cy="256.7" r="0.45" fill="#4c56b8"/>
<circle cx="76.1" cy="231.9" r="0.45" fill="#222c94"/>
<circle cx="56.1" cy="233.2" r="0.45" fill="#222c94"/>
<circle cx="42.8" cy="267.5" r="0.45" fill="#222c94"/>
<circle cx="66.8" cy="262.8" r="0.45" fill="#7a80cc"/>
<circle cx="60.8" cy="241.8" r="0.45" fill="#222c94"/>
<circle cx="53.5" cy="249.8" r="0.45" fill="#4c56b8"/>
<circle cx="68.0" cy="247.2" r="0.45" fill="#4c56b8"/>
<circle cx="48.7" cy="253.5" r="0.45" fill="#222c94"/>
<circle cx="75.3" cy="236.9" r="0.45" fill="#4c56b8"/>
<circle cx="76.5" cy="254.3" r="0.45" fill="#222c94"/>
<circle cx="49.8" cy="240.3" r="0.45" fill="#7a80cc"/>
<circle cx="44.0" cy="257.3" r="0.45" fill="#222c94"/>
<circle cx="39.8" cy="234.5" r="0.45" fill="#3440a8"/>
<circle cx="43.3" cy="235.3" r="0.45" fill="#222c94"/>
<circle cx="57.8" cy="230.3" r="0.45" fill="#222c94"/>
<circle cx="83.3" cy="250.7" r="0.45" fill="#222c94"/>
<circle cx="74.6" cy="231.6" r="0.45" fill="#3440a8"/>
<circle cx="38.0" cy="248.1" r="0.45" fill="#7a80cc"/>
<circle cx="57.1" cy="254.4" r="0.45" fill="#3440a8"/>
<circle cx="65.8" cy="270.9" r="0.45" fill="#222c94"/>
<circle cx="40.2" cy="232.1" r="0.45" fill="#222c94"/>
<circle cx="37.1" cy="258.1" r="0.45" fill="#3440a8"/>
<circle cx="41.6" cy="232.2" r="0.45" fill="#3440a8"/>
<circle cx="45.9" cy="241.5" r="0.45" fill="#3440a8"/>
<circle cx="54.0" cy="271.0" r="0.45" fill="#7a80cc"/>
<circle cx="52.3" cy="243.9" r="0.45" fill="#7a80cc"/>
<circle cx="47.6" cy="270.8" r="0.45" fill="#3440a8"/>
<circle cx="44.3" cy="266.9" r="0.45" fill="#4c56b8"/>
<circle cx="67.3" cy="255.6" r="0.45" fill="#7a80cc"/>
<circle cx="62.5" cy="256.8" r="0.45" fill="#222c94"/>
<circle cx="75.2" cy="250.5" r="0.45" fill="#222c94"/>
<circle cx="36.7" cy="245.4" r="0.45" fill="#222c94"/>
<circle cx="66.1" cy="240.5" r="0.45" fill="#7a80cc"/>
<circle cx="61.6" cy="231.5" r="0.45" fill="#222c94"/>
<circle cx="81.7" cy="251.1" r="0.45" fill="#3440a8"/>
<circle cx="60.8" cy="257.2" r="0.45" fill="#3440a8"/>
<circle cx="76.1" cy="261.8" r="0.45" fill="#222c94"/>
<circle cx="82.9" cy="264.6" r="0.45" fill="#4c56b8"/>
<circle cx="56.7" cy="256.3" r="0.45" fill="#222c94"/>
<circle cx="55.0" cy="256.0" r="0.45" fill="#4c56b8"/>
<circle cx="84.0" cy="269.9" r="0.45" fill="#222c94"/>
<circle cx="69.5" cy="269.3" r="0.45" fill="#a8ace0"/>
<circle cx="71.9" cy="269.5" r="0.45" fill="#d0d4f4"/>
<circle cx="73.0" cy="265.7" r="0.45" fill="#6a70c4"/>
<circle cx="83.6" cy="254.8" r="0.45" fill="#3a44a8"/>
<circle cx="86.9" cy="268.3" r="0.45" fill="#d0d4f4"/>
<circle cx="76.8" cy="267.5" r="0.45" fill="#d0d4f4"/>
<circle cx="69.3" cy="265.8" r="0.45" fill="#3a44a8"/>
<circle cx="86.0" cy="261.2" r="0.45" fill="#3a44a8"/>
<circle cx="79.0" cy="249.5" r="0.45" fill="#3a44a8"/>
<circle cx="85.2" cy="257.5" r="0.45" fill="#6a70c4"/>
<circle cx="84.4" cy="253.8" r="0.45" fill="#d0d4f4"/>
<circle cx="80.4" cy="253.2" r="0.45" fill="#6a70c4"/>
<circle cx="70.5" cy="259.2" r="0.45" fill="#3a44a8"/>
<circle cx="82.9" cy="264.0" r="0.45" fill="#6a70c4"/>
<circle cx="76.0" cy="268.5" r="0.45" fill="#3a44a8"/>
<circle cx="81.0" cy="264.1" r="0.45" fill="#d0d4f4"/>
<circle cx="67.0" cy="267.7" r="0.45" fill="#6a70c4"/>
<circle cx="67.2" cy="271.7" r="0.45" fill="#a8ace0"/>
<circle cx="73.7" cy="268.1" r="0.45" fill="#a8ace0"/>
<circle cx="71.7" cy="259.2" r="0.45" fill="#3a44a8"/>
<circle cx="84.7" cy="269.2" r="0.45" fill="#d0d4f4"/>
<circle cx="70.7" cy="261.6" r="0.45" fill="#d0d4f4"/>
<circle cx="82.0" cy="254.9" r="0.45" fill="#a8ace0"/>
<circle cx="82.7" cy="262.8" r="0.45" fill="#6a70c4"/>
<circle cx="83.3" cy="252.5" r="0.45" fill="#d0d4f4"/>
<circle cx="70.9" cy="269.6" r="0.45" fill="#6a70c4"/>
<circle cx="79.9" cy="259.9" r="0.45" fill="#3a44a8"/>
<circle cx="70.7" cy="256.8" r="0.45" fill="#3a44a8"/>
<circle cx="83.7" cy="263.7" r="0.45" fill="#3a44a8"/>
<circle cx="71.1" cy="258.0" r="0.45" fill="#a8ace0"/>
<circle cx="81.0" cy="260.4" r="0.45" fill="#3a44a8"/>
<circle cx="85.6" cy="269.8" r="0.45" fill="#3a44a8"/>
<circle cx="76.3" cy="270.3" r="0.45" fill="#6a70c4"/>
<circle cx="72.2" cy="254.6" r="0.45" fill="#a8ace0"/>
<circle cx="72.3" cy="262.4" r="0.45" fill="#6a70c4"/>
<circle cx="76.6" cy="270.2" r="0.45" fill="#a8ace0"/>
<circle cx="78.0" cy="268.4" r="0.45" fill="#a8ace0"/>
<circle cx="73.9" cy="261.7" r="0.45" fill="#6a70c4"/>
<circle cx="72.4" cy="264.5" r="0.45" fill="#d0d4f4"/>
<circle cx="75.3" cy="251.5" r="0.45" fill="#d0d4f4"/>
<circle cx="70.5" cy="259.2" r="0.45" fill="#d0d4f4"/>
<circle cx="82.6" cy="252.2" r="0.45" fill="#d0d4f4"/>
<circle cx="81.1" cy="270.1" r="0.45" fill="#a8ace0"/>
<circle cx="80.9" cy="264.5" r="0.45" fill="#d0d4f4"/>
<circle cx="71.9" cy="271.3" r="0.45" fill="#d0d4f4"/>
<circle cx="75.1" cy="269.5" r="0.45" fill="#a8ace0"/>
<circle cx="69.9" cy="267.6" r="0.45" fill="#d0d4f4"/>
<circle cx="78.9" cy="265.2" r="0.45" fill="#6a70c4"/>
<circle cx="80.8" cy="256.0" r="0.45" fill="#d0d4f4"/>
<circle cx="67.5" cy="267.6" r="0.45" fill="#3a44a8"/>
<circle cx="68.4" cy="265.4" r="0.45" fill="#6a70c4"/>
<circle cx="77.3" cy="257.1" r="0.45" fill="#d0d4f4"/>
<circle cx="87.0" cy="271.8" r="0.45" fill="#3a44a8"/>
<circle cx="79.7" cy="263.0" r="0.45" fill="#a8ace0"/>
<circle cx="74.2" cy="255.5" r="0.45" fill="#a8ace0"/>
<circle cx="73.9" cy="269.4" r="0.45" fill="#6a70c4"/>
<circle cx="78.0" cy="250.2" r="0.45" fill="#a8ace0"/>
<circle cx="69.3" cy="261.3" r="0.45" fill="#d0d4f4"/>
<circle cx="69.5" cy="259.1" r="0.45" fill="#d0d4f4"/>
<circle cx="78.3" cy="256.7" r="0.45" fill="#d0d4f4"/>
<circle cx="82.0" cy="252.1" r="0.45" fill="#a8ace0"/>
<circle cx="71.2" cy="265.7" r="0.45" fill="#a8ace0"/>
<circle cx="83.0" cy="267.7" r="0.45" fill="#3a44a8"/>
<circle cx="75.4" cy="258.4" r="0.45" fill="#d0d4f4"/>
<circle cx="70.9" cy="263.4" r="0.45" fill="#d0d4f4"/>
<circle cx="76.0" cy="259.1" r="0.45" fill="#d0d4f4"/>
<circle cx="79.3" cy="250.7" r="0.45" fill="#d0d4f4"/>
<circle cx="71.7" cy="266.1" r="0.45" fill="#d0d4f4"/>
<circle cx="82.6" cy="247.9" r="0.45" fill="#3a44a8"/>
<circle cx="72.7" cy="254.4" r="0.45" fill="#d0d4f4"/>
<circle cx="88.0" cy="246.9" r="0.5" fill="#5a5ec0"/>
<circle cx="86.0" cy="249.9" r="0.5" fill="#5a5ec0"/>
<circle cx="89.9" cy="262.8" r="0.5" fill="#7a7ccc"/>
<circle cx="84.6" cy="242.8" r="0.5" fill="#3a40a8"/>
<circle cx="84.9" cy="260.9" r="0.5" fill="#5a5ec0"/>
<circle cx="84.7" cy="235.4" r="0.5" fill="#5a5ec0"/>
<circle cx="82.8" cy="236.7" r="0.5" fill="#3a40a8"/>
<circle cx="85.1" cy="240.7" r="0.5" fill="#7a7ccc"/>
<circle cx="81.7" cy="239.7" r="0.5" fill="#7a7ccc"/>
<circle cx="87.7" cy="247.0" r="0.5" fill="#5a5ec0"/>
<circle cx="77.4" cy="230.5" r="0.5" fill="#5a5ec0"/>
<circle cx="92.8" cy="268.5" r="0.5" fill="#3a40a8"/>
<circle cx="80.3" cy="232.4" r="0.5" fill="#b0b0e0"/>
<circle cx="85.6" cy="247.7" r="0.5" fill="#3a40a8"/>
<circle cx="91.9" cy="263.8" r="0.5" fill="#b0b0e0"/>
<circle cx="78.2" cy="231.0" r="0.5" fill="#b0b0e0"/>
<circle cx="87.9" cy="253.4" r="0.5" fill="#3a40a8"/>
<circle cx="89.4" cy="262.8" r="0.5" fill="#3a40a8"/>
<circle cx="88.3" cy="243.3" r="0.5" fill="#7a7ccc"/>
<circle cx="79.1" cy="233.8" r="0.5" fill="#b0b0e0"/>
<circle cx="90.7" cy="256.0" r="0.5" fill="#5a5ec0"/>
<circle cx="87.2" cy="239.5" r="0.5" fill="#3a40a8"/>
<circle cx="90.9" cy="271.8" r="0.5" fill="#7a7ccc"/>
<circle cx="90.4" cy="261.0" r="0.5" fill="#b0b0e0"/>
<circle cx="92.1" cy="252.9" r="0.5" fill="#5a5ec0"/>
<circle cx="81.3" cy="237.0" r="0.5" fill="#7a7ccc"/>
<circle cx="85.5" cy="271.6" r="0.5" fill="#7a7ccc"/>
<circle cx="81.0" cy="233.2" r="0.5" fill="#b0b0e0"/>
<circle cx="89.3" cy="250.8" r="0.5" fill="#5a5ec0"/>
<circle cx="88.0" cy="266.4" r="0.5" fill="#b0b0e0"/>
<circle cx="85.2" cy="240.9" r="0.5" fill="#3a40a8"/>
<circle cx="89.9" cy="249.2" r="0.5" fill="#5a5ec0"/>
<circle cx="88.4" cy="265.9" r="0.5" fill="#7a7ccc"/>
<circle cx="83.7" cy="231.8" r="0.5" fill="#7a7ccc"/>
<circle cx="87.1" cy="257.8" r="0.5" fill="#7a7ccc"/>
<circle cx="87.8" cy="240.0" r="0.5" fill="#3a40a8"/>
<circle cx="91.1" cy="266.2" r="0.5" fill="#7a7ccc"/>
<circle cx="81.7" cy="232.8" r="0.5" fill="#5a5ec0"/>
<circle cx="84.3" cy="244.2" r="0.5" fill="#7a7ccc"/>
<circle cx="80.9" cy="234.8" r="0.5" fill="#5a5ec0"/>
<circle cx="91.7" cy="265.5" r="0.5" fill="#7a7ccc"/>
<circle cx="84.7" cy="232.9" r="0.5" fill="#7a7ccc"/>
<circle cx="83.5" cy="245.5" r="0.5" fill="#7a7ccc"/>
<circle cx="81.5" cy="233.6" r="0.5" fill="#3a40a8"/>
<circle cx="86.6" cy="236.3" r="0.5" fill="#3a40a8"/>
<circle cx="85.8" cy="253.2" r="0.5" fill="#5a5ec0"/>
<circle cx="81.0" cy="236.8" r="0.5" fill="#5a5ec0"/>
<circle cx="85.8" cy="242.2" r="0.5" fill="#3a40a8"/>
<circle cx="85.7" cy="250.7" r="0.5" fill="#3a40a8"/>
<circle cx="84.7" cy="233.4" r="0.5" fill="#5a5ec0"/>
<circle cx="83.2" cy="242.7" r="0.5" fill="#5a5ec0"/>
<circle cx="89.5" cy="263.7" r="0.5" fill="#7a7ccc"/>
<circle cx="87.3" cy="248.3" r="0.5" fill="#5a5ec0"/>
<circle cx="89.2" cy="265.1" r="0.5" fill="#b0b0e0"/>
<circle cx="88.7" cy="269.3" r="0.5" fill="#3a40a8"/>
<circle cx="81.9" cy="244.2" r="0.5" fill="#5a5ec0"/>
<circle cx="85.2" cy="237.7" r="0.5" fill="#b0b0e0"/>
<circle cx="82.1" cy="242.8" r="0.5" fill="#7a7ccc"/>
<circle cx="80.8" cy="231.7" r="0.5" fill="#7a7ccc"/>
<circle cx="90.3" cy="244.1" r="0.5" fill="#7a7ccc"/>
<circle cx="85.0" cy="243.9" r="0.5" fill="#7a7ccc"/>
<circle cx="92.3" cy="258.0" r="0.5" fill="#3a40a8"/>
<circle cx="84.4" cy="248.8" r="0.5" fill="#5a5ec0"/>
<circle cx="89.8" cy="250.1" r="0.5" fill="#5a5ec0"/>
<circle cx="87.2" cy="266.3" r="0.5" fill="#7a7ccc"/>
<circle cx="85.4" cy="233.9" r="0.5" fill="#b0b0e0"/>
<circle cx="89.4" cy="269.4" r="0.5" fill="#5a5ec0"/>
<circle cx="87.4" cy="260.7" r="0.5" fill="#7a7ccc"/>
<circle cx="85.6" cy="261.1" r="0.5" fill="#7a7ccc"/>
<circle cx="84.4" cy="252.2" r="0.5" fill="#5a5ec0"/>
<circle cx="90.0" cy="256.7" r="0.5" fill="#3a40a8"/>
<circle cx="86.1" cy="258.3" r="0.5" fill="#5a5ec0"/>
<circle cx="91.1" cy="247.4" r="0.5" fill="#b0b0e0"/>
<circle cx="85.1" cy="265.9" r="0.5" fill="#5a5ec0"/>
<circle cx="86.3" cy="233.8" r="0.5" fill="#7a7ccc"/>
<circle cx="91.4" cy="266.3" r="0.5" fill="#b0b0e0"/>
<circle cx="86.2" cy="270.7" r="0.5" fill="#3a40a8"/>
<circle cx="89.8" cy="260.2" r="0.5" fill="#5a5ec0"/>
<circle cx="87.2" cy="249.3" r="0.5" fill="#5a5ec0"/>
<circle cx="90.1" cy="269.3" r="0.5" fill="#5a5ec0"/>
<circle cx="87.8" cy="245.4" r="0.5" fill="#5a5ec0"/>
<circle cx="89.4" cy="248.3" r="0.5" fill="#7a7ccc"/>
<circle cx="88.8" cy="260.8" r="0.5" fill="#7a7ccc"/>
<circle cx="82.8" cy="235.0" r="0.5" fill="#b0b0e0"/>
<circle cx="88.4" cy="257.0" r="0.5" fill="#b0b0e0"/>
<circle cx="83.2" cy="236.1" r="0.5" fill="#5a5ec0"/>
<circle cx="88.3" cy="243.5" r="0.5" fill="#3a40a8"/>
<circle cx="86.1" cy="265.0" r="0.5" fill="#7a7ccc"/>
<circle cx="90.1" cy="252.3" r="0.5" fill="#5a5ec0"/>
<circle cx="88.1" cy="247.2" r="0.5" fill="#3a40a8"/>
<circle cx="87.0" cy="247.1" r="0.5" fill="#7a7ccc"/>
<circle cx="85.8" cy="236.4" r="0.5" fill="#b0b0e0"/>
<circle cx="86.0" cy="236.5" r="0.5" fill="#b0b0e0"/>
<circle cx="85.7" cy="251.7" r="0.5" fill="#5a5ec0"/>
<circle cx="90.5" cy="271.4" r="0.5" fill="#5a5ec0"/>
<circle cx="81.9" cy="232.6" r="0.5" fill="#3a40a8"/>
<circle cx="81.2" cy="239.1" r="0.5" fill="#3a40a8"/>
<circle cx="88.7" cy="247.9" r="0.5" fill="#b0b0e0"/>
<circle cx="89.3" cy="271.8" r="0.5" fill="#5a5ec0"/>
<circle cx="82.0" cy="241.8" r="0.5" fill="#b0b0e0"/>
<circle cx="82.7" cy="241.7" r="0.5" fill="#3a40a8"/>
<circle cx="86.5" cy="263.6" r="0.5" fill="#b0b0e0"/>
<circle cx="87.5" cy="253.7" r="0.5" fill="#b0b0e0"/>
<circle cx="91.4" cy="264.1" r="0.5" fill="#5a5ec0"/>
<circle cx="87.2" cy="252.6" r="0.5" fill="#b0b0e0"/>
<circle cx="92.2" cy="267.7" r="0.5" fill="#3a40a8"/>
<circle cx="91.0" cy="271.0" r="0.5" fill="#3a40a8"/>
<circle cx="89.9" cy="266.5" r="0.5" fill="#b0b0e0"/>
<circle cx="88.1" cy="260.0" r="0.5" fill="#5a5ec0"/>
<circle cx="84.8" cy="238.2" r="0.5" fill="#3a40a8"/>
<circle cx="88.3" cy="244.2" r="0.5" fill="#5a5ec0"/>
<circle cx="86.5" cy="256.0" r="0.5" fill="#b0b0e0"/>
<circle cx="83.9" cy="249.4" r="0.5" fill="#b0b0e0"/>
<circle cx="90.2" cy="245.3" r="0.5" fill="#7a7ccc"/>
<circle cx="90.2" cy="253.8" r="0.5" fill="#b0b0e0"/>
<circle cx="86.4" cy="243.9" r="0.5" fill="#5a5ec0"/>
<circle cx="85.5" cy="246.3" r="0.5" fill="#3a40a8"/>
<circle cx="86.4" cy="257.2" r="0.5" fill="#7a7ccc"/>
<circle cx="91.5" cy="247.4" r="0.5" fill="#3a40a8"/>
<circle cx="89.9" cy="263.7" r="0.5" fill="#7a7ccc"/>
<circle cx="58.7" cy="221.5" r="0.45" fill="#8a8ad0"/>
<circle cx="94.3" cy="248.0" r="0.45" fill="#8a8ad0"/>
<circle cx="62.7" cy="220.2" r="0.45" fill="#8a8ad0"/>
<circle cx="95.1" cy="266.1" r="0.45" fill="#4a4ab0"/>
<circle cx="74.8" cy="221.4" r="0.45" fill="#a8a8e0"/>
<circle cx="91.0" cy="269.7" r="0.45" fill="#4a4ab0"/>
<circle cx="93.6" cy="270.1" r="0.45" fill="#6a6ac0"/>
<circle cx="88.3" cy="230.2" r="0.45" fill="#8a8ad0"/>
<circle cx="80.1" cy="226.4" r="0.45" fill="#a8a8e0"/>
<circle cx="90.8" cy="246.2" r="0.45" fill="#4a4ab0"/>
<circle cx="64.2" cy="222.6" r="0.45" fill="#a8a8e0"/>
<circle cx="95.0" cy="261.7" r="0.45" fill="#6a6ac0"/>
<circle cx="95.5" cy="265.8" r="0.45" fill="#8a8ad0"/>
<circle cx="90.5" cy="243.7" r="0.45" fill="#a8a8e0"/>
<circle cx="87.0" cy="225.5" r="0.45" fill="#4a4ab0"/>
<circle cx="92.3" cy="261.7" r="0.45" fill="#6a6ac0"/>
<circle cx="72.3" cy="219.1" r="0.45" fill="#6a6ac0"/>
<circle cx="93.0" cy="259.8" r="0.45" fill="#4a4ab0"/>
<circle cx="81.1" cy="226.6" r="0.45" fill="#8a8ad0"/>
<circle cx="69.7" cy="218.0" r="0.45" fill="#4a4ab0"/>
<circle cx="65.9" cy="222.4" r="0.45" fill="#4a4ab0"/>
<circle cx="77.8" cy="220.6" r="0.45" fill="#4a4ab0"/>
<circle cx="88.7" cy="233.7" r="0.45" fill="#4a4ab0"/>
<circle cx="92.2" cy="262.4" r="0.45" fill="#a8a8e0"/>
<circle cx="77.0" cy="219.9" r="0.45" fill="#6a6ac0"/>
<circle cx="94.5" cy="251.3" r="0.45" fill="#4a4ab0"/>
<circle cx="80.0" cy="225.1" r="0.45" fill="#8a8ad0"/>
<circle cx="84.7" cy="230.4" r="0.45" fill="#a8a8e0"/>
<circle cx="86.4" cy="230.1" r="0.45" fill="#4a4ab0"/>
<circle cx="63.7" cy="220.9" r="0.45" fill="#4a4ab0"/>
<circle cx="72.4" cy="224.9" r="0.45" fill="#8a8ad0"/>
<circle cx="86.9" cy="229.6" r="0.45" fill="#8a8ad0"/>
<circle cx="95.0" cy="270.8" r="0.45" fill="#a8a8e0"/>
<circle cx="74.1" cy="224.4" r="0.45" fill="#6a6ac0"/>
<circle cx="84.8" cy="233.8" r="0.45" fill="#8a8ad0"/>
<circle cx="91.6" cy="239.1" r="0.45" fill="#a8a8e0"/>
<circle cx="89.9" cy="239.5" r="0.45" fill="#4a4ab0"/>
<circle cx="62.0" cy="223.4" r="0.45" fill="#4a4ab0"/>
<circle cx="92.2" cy="268.7" r="0.45" fill="#4a4ab0"/>
<circle cx="87.9" cy="232.8" r="0.45" fill="#4a4ab0"/>
<circle cx="72.0" cy="217.9" r="0.45" fill="#8a8ad0"/>
<circle cx="90.0" cy="240.5" r="0.45" fill="#8a8ad0"/>
<circle cx="83.1" cy="221.9" r="0.45" fill="#a8a8e0"/>
<circle cx="91.2" cy="239.5" r="0.45" fill="#8a8ad0"/>
<circle cx="87.4" cy="233.6" r="0.45" fill="#8a8ad0"/>
<circle cx="68.5" cy="223.8" r="0.45" fill="#8a8ad0"/>
<circle cx="71.4" cy="218.9" r="0.45" fill="#4a4ab0"/>
<circle cx="94.7" cy="254.0" r="0.45" fill="#a8a8e0"/>
<circle cx="78.7" cy="222.5" r="0.45" fill="#6a6ac0"/>
<circle cx="81.0" cy="224.5" r="0.45" fill="#4a4ab0"/>
<circle cx="88.6" cy="232.7" r="0.45" fill="#4a4ab0"/>
<circle cx="64.5" cy="222.3" r="0.45" fill="#6a6ac0"/>
<circle cx="83.0" cy="229.2" r="0.45" fill="#a8a8e0"/>
<circle cx="58.2" cy="223.4" r="0.45" fill="#6a6ac0"/>
<circle cx="68.5" cy="221.8" r="0.45" fill="#4a4ab0"/>
<circle cx="73.1" cy="224.2" r="0.45" fill="#4a4ab0"/>
<circle cx="79.9" cy="227.6" r="0.45" fill="#a8a8e0"/>
<circle cx="73.4" cy="226.6" r="0.45" fill="#8a8ad0"/>
<circle cx="72.8" cy="225.2" r="0.45" fill="#4a4ab0"/>
<circle cx="76.8" cy="222.5" r="0.45" fill="#a8a8e0"/>
<circle cx="87.0" cy="233.6" r="0.45" fill="#8a8ad0"/>
<circle cx="92.0" cy="239.6" r="0.45" fill="#6a6ac0"/>
<circle cx="91.1" cy="240.9" r="0.45" fill="#8a8ad0"/>
<circle cx="67.4" cy="224.5" r="0.45" fill="#4a4ab0"/>
<circle cx="61.3" cy="221.7" r="0.45" fill="#8a8ad0"/>
<circle cx="63.0" cy="223.8" r="0.45" fill="#4a4ab0"/>
<circle cx="56.7" cy="222.1" r="0.45" fill="#4a4ab0"/>
<circle cx="84.4" cy="233.6" r="0.45" fill="#a8a8e0"/>
<circle cx="91.4" cy="257.2" r="0.45" fill="#4a4ab0"/>
<circle cx="88.2" cy="230.3" r="0.45" fill="#6a6ac0"/>
<circle cx="91.4" cy="241.4" r="0.45" fill="#8a8ad0"/>
<circle cx="95.3" cy="256.3" r="0.45" fill="#4a4ab0"/>
<circle cx="91.9" cy="270.2" r="0.45" fill="#4a4ab0"/>
<circle cx="92.8" cy="250.9" r="0.45" fill="#8a8ad0"/>
<circle cx="81.7" cy="228.7" r="0.45" fill="#a8a8e0"/>
<circle cx="90.1" cy="256.9" r="0.45" fill="#a8a8e0"/>
<circle cx="91.4" cy="240.4" r="0.45" fill="#6a6ac0"/>
<circle cx="95.1" cy="262.4" r="0.45" fill="#a8a8e0"/>
<circle cx="90.5" cy="236.8" r="0.45" fill="#4a4ab0"/>
<circle cx="95.3" cy="259.3" r="0.45" fill="#6a6ac0"/>
<circle cx="68.8" cy="220.8" r="0.45" fill="#6a6ac0"/>
<circle cx="52.4" cy="223.0" r="0.45" fill="#6a6ac0"/>
<circle cx="79.4" cy="223.2" r="0.45" fill="#8a8ad0"/>
<circle cx="94.1" cy="245.4" r="0.45" fill="#6a6ac0"/>
<circle cx="70.5" cy="219.3" r="0.45" fill="#8a8ad0"/>
<circle cx="85.5" cy="224.1" r="0.45" fill="#6a6ac0"/>
<circle cx="83.8" cy="222.2" r="0.45" fill="#8a8ad0"/>
<circle cx="61.1" cy="223.9" r="0.45" fill="#6a6ac0"/>
<circle cx="87.0" cy="235.7" r="0.45" fill="#6a6ac0"/>
<circle cx="82.0" cy="222.6" r="0.45" fill="#6a6ac0"/>
<circle cx="90.4" cy="236.4" r="0.45" fill="#4a4ab0"/>
<circle cx="69.6" cy="224.6" r="0.45" fill="#8a8ad0"/>
<circle cx="86.4" cy="233.8" r="0.45" fill="#8a8ad0"/>
<circle cx="68.7" cy="219.2" r="0.45" fill="#6a6ac0"/>
<circle cx="85.4" cy="225.4" r="0.45" fill="#a8a8e0"/>
<circle cx="91.2" cy="258.1" r="0.45" fill="#4a4ab0"/>
<circle cx="94.5" cy="261.5" r="0.45" fill="#8a8ad0"/>
<circle cx="94.1" cy="260.0" r="0.45" fill="#6a6ac0"/>
<circle cx="87.5" cy="237.5" r="0.45" fill="#8a8ad0"/>
<circle cx="94.8" cy="269.6" r="0.45" fill="#a8a8e0"/>
<circle cx="95.3" cy="262.9" r="0.45" fill="#a8a8e0"/>
<circle cx="90.2" cy="263.9" r="0.45" fill="#4a4ab0"/>
<circle cx="93.4" cy="265.6" r="0.45" fill="#6a6ac0"/>
<circle cx="94.4" cy="249.4" r="0.45" fill="#8a8ad0"/>
<circle cx="73.7" cy="221.1" r="0.45" fill="#6a6ac0"/>
<circle cx="88.7" cy="241.7" r="0.45" fill="#a8a8e0"/>
<circle cx="94.6" cy="268.0" r="0.45" fill="#6a6ac0"/>
<circle cx="85.5" cy="230.8" r="0.45" fill="#a8a8e0"/>
<circle cx="87.7" cy="235.9" r="0.45" fill="#4a4ab0"/>
<circle cx="70.8" cy="225.9" r="0.45" fill="#4a4ab0"/>
<circle cx="70.6" cy="225.7" r="0.45" fill="#4a4ab0"/>
<circle cx="86.2" cy="227.1" r="0.45" fill="#8a8ad0"/>
<circle cx="80.6" cy="222.3" r="0.45" fill="#4a4ab0"/>
<circle cx="92.6" cy="253.8" r="0.45" fill="#8a8ad0"/>
<circle cx="95.2" cy="268.7" r="0.45" fill="#a8a8e0"/>
<circle cx="90.3" cy="244.5" r="0.45" fill="#8a8ad0"/>
<circle cx="94.8" cy="263.0" r="0.45" fill="#4a4ab0"/>
<circle cx="76.2" cy="225.7" r="0.45" fill="#4a4ab0"/>
<circle cx="92.2" cy="246.3" r="0.45" fill="#8a8ad0"/>
<circle cx="90.1" cy="246.2" r="0.45" fill="#a8a8e0"/>
<circle cx="75.3" cy="226.1" r="0.45" fill="#8a8ad0"/>
<circle cx="75.2" cy="221.2" r="0.45" fill="#8a8ad0"/>
<circle cx="91.4" cy="253.6" r="0.45" fill="#6a6ac0"/>
<circle cx="79.2" cy="221.4" r="0.45" fill="#4a4ab0"/>
<circle cx="74.9" cy="223.5" r="0.45" fill="#6a6ac0"/>
<circle cx="79.6" cy="227.8" r="0.45" fill="#6a6ac0"/>
<circle cx="66.3" cy="222.5" r="0.45" fill="#a8a8e0"/>
<circle cx="84.2" cy="222.8" r="0.45" fill="#6a6ac0"/>
<circle cx="94.0" cy="270.4" r="0.45" fill="#a8a8e0"/>
<circle cx="85.5" cy="229.2" r="0.45" fill="#8a8ad0"/>
<circle cx="95.5" cy="271.9" r="0.45" fill="#6a6ac0"/>
<circle cx="79.4" cy="226.0" r="0.45" fill="#6a6ac0"/>
<circle cx="63.9" cy="224.2" r="0.45" fill="#4a4ab0"/>
<circle cx="88.1" cy="230.0" r="0.45" fill="#8a8ad0"/>
<circle cx="82.6" cy="224.9" r="0.45" fill="#8a8ad0"/>
<circle cx="58.8" cy="221.3" r="0.45" fill="#4a4ab0"/>
<circle cx="82.9" cy="229.9" r="0.45" fill="#6a6ac0"/>
<circle cx="76.5" cy="219.8" r="0.45" fill="#a8a8e0"/>
<circle cx="91.8" cy="252.4" r="0.45" fill="#4a4ab0"/>
<circle cx="83.5" cy="222.7" r="0.45" fill="#a8a8e0"/>
<circle cx="53.8" cy="222.8" r="0.45" fill="#8a8ad0"/>
<circle cx="74.7" cy="219.6" r="0.45" fill="#6a6ac0"/>
<circle cx="76.8" cy="223.5" r="0.45" fill="#a8a8e0"/>
<circle cx="95.1" cy="262.6" r="0.45" fill="#a8a8e0"/>
<circle cx="79.3" cy="221.4" r="0.45" fill="#8a8ad0"/>
<circle cx="70.9" cy="218.8" r="0.45" fill="#a8a8e0"/>
<circle cx="59.0" cy="221.9" r="0.45" fill="#4a4ab0"/>
<circle cx="76.1" cy="222.7" r="0.45" fill="#a8a8e0"/>
<circle cx="66.3" cy="222.6" r="0.45" fill="#8a8ad0"/>
<circle cx="50.1" cy="223.8" r="0.45" fill="#8a8ad0"/>
<circle cx="84.0" cy="206.8" r="0.5" fill="#7a72bc"/>
<circle cx="81.0" cy="220.3" r="0.5" fill="#b0a8dc"/>
<circle cx="81.8" cy="206.4" r="0.5" fill="#8a82c8"/>
<circle cx="84.1" cy="220.2" r="0.5" fill="#b0a8dc"/>
<circle cx="84.3" cy="207.1" r="0.5" fill="#8a82c8"/>
<circle cx="88.0" cy="219.3" r="0.5" fill="#7a72bc"/>
<circle cx="87.9" cy="218.4" r="0.5" fill="#9a94d0"/>
<circle cx="88.0" cy="217.1" r="0.5" fill="#7a72bc"/>
<circle cx="86.6" cy="213.9" r="0.5" fill="#b0a8dc"/>
<circle cx="88.3" cy="212.4" r="0.5" fill="#7a72bc"/>
<circle cx="81.5" cy="219.4" r="0.5" fill="#9a94d0"/>
<circle cx="83.4" cy="209.5" r="0.5" fill="#8a82c8"/>
<circle cx="85.8" cy="211.8" r="0.5" fill="#8a82c8"/>
<circle cx="83.9" cy="206.7" r="0.5" fill="#8a82c8"/>
<circle cx="83.3" cy="215.2" r="0.5" fill="#7a72bc"/>
<circle cx="86.4" cy="212.1" r="0.5" fill="#7a72bc"/>
<circle cx="80.9" cy="217.1" r="0.5" fill="#8a82c8"/>
<circle cx="79.6" cy="221.0" r="0.5" fill="#8a82c8"/>
<circle cx="84.8" cy="212.2" r="0.5" fill="#9a94d0"/>
<circle cx="83.7" cy="207.1" r="0.5" fill="#b0a8dc"/>
<circle cx="79.4" cy="209.3" r="0.5" fill="#7a72bc"/>
<circle cx="84.3" cy="212.7" r="0.5" fill="#b0a8dc"/>
<circle cx="83.4" cy="210.5" r="0.5" fill="#7a72bc"/>
<circle cx="85.4" cy="210.5" r="0.5" fill="#8a82c8"/>
<circle cx="85.2" cy="206.7" r="0.5" fill="#9a94d0"/>
<circle cx="81.1" cy="217.7" r="0.5" fill="#9a94d0"/>
<circle cx="84.7" cy="216.6" r="0.5" fill="#8a82c8"/>
<circle cx="81.2" cy="217.8" r="0.5" fill="#9a94d0"/>
<circle cx="80.8" cy="211.0" r="0.5" fill="#8a82c8"/>
<circle cx="84.1" cy="217.0" r="0.5" fill="#8a82c8"/>
<circle cx="83.4" cy="213.3" r="0.5" fill="#b0a8dc"/>
<circle cx="78.8" cy="210.1" r="0.5" fill="#9a94d0"/>
<circle cx="83.9" cy="212.5" r="0.5" fill="#8a82c8"/>
<circle cx="87.2" cy="217.6" r="0.5" fill="#7a72bc"/>
<circle cx="81.8" cy="219.9" r="0.5" fill="#8a82c8"/>
<circle cx="81.0" cy="212.7" r="0.5" fill="#7a72bc"/>
<circle cx="79.1" cy="208.9" r="0.5" fill="#7a72bc"/>
<circle cx="82.0" cy="208.7" r="0.5" fill="#7a72bc"/>
<circle cx="85.9" cy="214.2" r="0.5" fill="#9a94d0"/>
<circle cx="85.1" cy="210.6" r="0.5" fill="#b0a8dc"/>
<circle cx="81.4" cy="210.3" r="0.5" fill="#8a82c8"/>
<circle cx="87.8" cy="209.6" r="0.5" fill="#7a72bc"/>
<circle cx="86.7" cy="213.5" r="0.5" fill="#7a72bc"/>
<circle cx="83.4" cy="207.2" r="0.5" fill="#8a82c8"/>
<circle cx="83.5" cy="221.0" r="0.5" fill="#7a72bc"/>
<circle cx="80.1" cy="214.8" r="0.5" fill="#7a72bc"/>
<circle cx="81.5" cy="212.7" r="0.5" fill="#9a94d0"/>
<circle cx="79.4" cy="218.7" r="0.5" fill="#8a82c8"/>
<circle cx="87.1" cy="217.4" r="0.5" fill="#8a82c8"/>
<circle cx="85.9" cy="213.3" r="0.5" fill="#9a94d0"/>
<g clip-path="url(#clipD)">
<polygon points="37,241 44,237 51,234 58,231.5 65,230.5 70,232 72,237 71,244 70,252 69,262 64,265 60,261 57,256 54,262 50,266 43,267 37,266" fill="#2f74a8" filter="url(#bl2)"/>
<polygon points="61,245 66,243 69,249 67,258 64,262 60,256" fill="#3088ae" opacity="0.9" filter="url(#bl2)"/>
<polygon points="38,245 44,241 50,238.5 57,235.5 63,233.5 67,234.5 68,238 65,241.5 60,244 57,248 55,254 51,259 44,261 38,259" fill="#4cb044" filter="url(#bl2)"/>
<polygon points="39,248 45,243.5 52,241.5 55,245 53,252 48,257 41,258" fill="#64c430" filter="url(#bl2)"/>
</g>
<circle cx="48.1" cy="265.4" r="0.45" fill="#3a70b0"/>
<circle cx="45.9" cy="266.5" r="0.45" fill="#4a88b8"/>
<circle cx="41.8" cy="266.9" r="0.45" fill="#4a88b8"/>
<circle cx="43.4" cy="263.3" r="0.45" fill="#2a50a8"/>
<circle cx="46.4" cy="267.1" r="0.45" fill="#4a88b8"/>
<circle cx="38.0" cy="264.5" r="0.45" fill="#3a70b0"/>
<circle cx="56.7" cy="263.0" r="0.45" fill="#3a70b0"/>
<circle cx="54.4" cy="262.4" r="0.45" fill="#2a50a8"/>
<circle cx="44.5" cy="266.0" r="0.45" fill="#2a50a8"/>
<circle cx="38.4" cy="263.1" r="0.45" fill="#4a88b8"/>
<circle cx="40.0" cy="263.5" r="0.45" fill="#2a50a8"/>
<circle cx="41.4" cy="261.5" r="0.45" fill="#2a50a8"/>
<circle cx="52.6" cy="261.6" r="0.45" fill="#2a50a8"/>
<circle cx="57.6" cy="262.9" r="0.45" fill="#4a88b8"/>
<circle cx="53.3" cy="260.9" r="0.45" fill="#2a50a8"/>
<circle cx="50.4" cy="261.5" r="0.45" fill="#4a88b8"/>
<circle cx="52.0" cy="262.3" r="0.45" fill="#3a70b0"/>
<circle cx="43.8" cy="262.8" r="0.45" fill="#2a50a8"/>
<circle cx="52.2" cy="261.4" r="0.45" fill="#3a70b0"/>
<circle cx="55.4" cy="266.3" r="0.45" fill="#2a50a8"/>
<circle cx="40.3" cy="264.8" r="0.45" fill="#4a88b8"/>
<circle cx="54.4" cy="258.8" r="0.45" fill="#3a70b0"/>
<circle cx="52.5" cy="262.3" r="0.45" fill="#4a88b8"/>
<circle cx="54.6" cy="263.4" r="0.45" fill="#4a88b8"/>
<circle cx="39.1" cy="261.6" r="0.45" fill="#2a50a8"/>
</g>
<line x1="34.0" y1="265.57" x2="35.8" y2="265.57" stroke="#222" stroke-width="0.8"/>
<line x1="34.0" y1="261.57" x2="35.8" y2="261.57" stroke="#222" stroke-width="0.8"/>
<line x1="34.0" y1="258.73" x2="35.8" y2="258.73" stroke="#222" stroke-width="0.8"/>
<line x1="34.0" y1="256.53" x2="35.8" y2="256.53" stroke="#222" stroke-width="0.8"/>
<line x1="34.0" y1="254.74" x2="35.8" y2="254.74" stroke="#222" stroke-width="0.8"/>
<line x1="34.0" y1="253.22" x2="35.8" y2="253.22" stroke="#222" stroke-width="0.8"/>
<line x1="34.0" y1="251.90" x2="35.8" y2="251.90" stroke="#222" stroke-width="0.8"/>
<line x1="34.0" y1="250.74" x2="35.8" y2="250.74" stroke="#222" stroke-width="0.8"/>
<line x1="34.0" y1="242.87" x2="35.8" y2="242.87" stroke="#222" stroke-width="0.8"/>
<line x1="34.0" y1="238.87" x2="35.8" y2="238.87" stroke="#222" stroke-width="0.8"/>
<line x1="34.0" y1="236.03" x2="35.8" y2="236.03" stroke="#222" stroke-width="0.8"/>
<line x1="34.0" y1="233.83" x2="35.8" y2="233.83" stroke="#222" stroke-width="0.8"/>
<line x1="34.0" y1="232.04" x2="35.8" y2="232.04" stroke="#222" stroke-width="0.8"/>
<line x1="34.0" y1="230.52" x2="35.8" y2="230.52" stroke="#222" stroke-width="0.8"/>
<line x1="34.0" y1="229.20" x2="35.8" y2="229.20" stroke="#222" stroke-width="0.8"/>
<line x1="34.0" y1="228.04" x2="35.8" y2="228.04" stroke="#222" stroke-width="0.8"/>
<line x1="34.0" y1="220.20" x2="35.8" y2="220.20" stroke="#222" stroke-width="0.8"/>
<line x1="34.0" y1="216.22" x2="35.8" y2="216.22" stroke="#222" stroke-width="0.8"/>
<line x1="34.0" y1="213.39" x2="35.8" y2="213.39" stroke="#222" stroke-width="0.8"/>
<line x1="34.0" y1="211.20" x2="35.8" y2="211.20" stroke="#222" stroke-width="0.8"/>
<line x1="34.0" y1="209.41" x2="35.8" y2="209.41" stroke="#222" stroke-width="0.8"/>
<line x1="34.0" y1="207.90" x2="35.8" y2="207.90" stroke="#222" stroke-width="0.8"/>
<line x1="34.0" y1="206.59" x2="35.8" y2="206.59" stroke="#222" stroke-width="0.8"/>
<line x1="34.0" y1="205.43" x2="35.8" y2="205.43" stroke="#222" stroke-width="0.8"/>
<line x1="34.0" y1="197.57" x2="35.8" y2="197.57" stroke="#222" stroke-width="0.8"/>
<line x1="34.0" y1="193.57" x2="35.8" y2="193.57" stroke="#222" stroke-width="0.8"/>
<line x1="34.0" y1="190.73" x2="35.8" y2="190.73" stroke="#222" stroke-width="0.8"/>
<line x1="34.0" y1="188.53" x2="35.8" y2="188.53" stroke="#222" stroke-width="0.8"/>
<line x1="34.0" y1="186.74" x2="35.8" y2="186.74" stroke="#222" stroke-width="0.8"/>
<line x1="34.0" y1="185.22" x2="35.8" y2="185.22" stroke="#222" stroke-width="0.8"/>
<line x1="34.0" y1="183.90" x2="35.8" y2="183.90" stroke="#222" stroke-width="0.8"/>
<line x1="34.0" y1="182.74" x2="35.8" y2="182.74" stroke="#222" stroke-width="0.8"/>
<line x1="33.0" y1="272.40" x2="35.8" y2="272.40" stroke="#111" stroke-width="1"/>
<line x1="33.0" y1="249.70" x2="35.8" y2="249.70" stroke="#111" stroke-width="1"/>
<line x1="33.0" y1="227.00" x2="35.8" y2="227.00" stroke="#111" stroke-width="1"/>
<line x1="33.0" y1="204.40" x2="35.8" y2="204.40" stroke="#111" stroke-width="1"/>
<line x1="33.0" y1="181.70" x2="35.8" y2="181.70" stroke="#111" stroke-width="1"/>
<line x1="42.63" y1="272.4" x2="42.63" y2="274.3" stroke="#222" stroke-width="0.8"/>
<line x1="46.63" y1="272.4" x2="46.63" y2="274.3" stroke="#222" stroke-width="0.8"/>
<line x1="49.47" y1="272.4" x2="49.47" y2="274.3" stroke="#222" stroke-width="0.8"/>
<line x1="51.67" y1="272.4" x2="51.67" y2="274.3" stroke="#222" stroke-width="0.8"/>
<line x1="53.46" y1="272.4" x2="53.46" y2="274.3" stroke="#222" stroke-width="0.8"/>
<line x1="54.98" y1="272.4" x2="54.98" y2="274.3" stroke="#222" stroke-width="0.8"/>
<line x1="56.30" y1="272.4" x2="56.30" y2="274.3" stroke="#222" stroke-width="0.8"/>
<line x1="57.46" y1="272.4" x2="57.46" y2="274.3" stroke="#222" stroke-width="0.8"/>
<line x1="65.33" y1="272.4" x2="65.33" y2="274.3" stroke="#222" stroke-width="0.8"/>
<line x1="69.33" y1="272.4" x2="69.33" y2="274.3" stroke="#222" stroke-width="0.8"/>
<line x1="72.17" y1="272.4" x2="72.17" y2="274.3" stroke="#222" stroke-width="0.8"/>
<line x1="74.37" y1="272.4" x2="74.37" y2="274.3" stroke="#222" stroke-width="0.8"/>
<line x1="76.16" y1="272.4" x2="76.16" y2="274.3" stroke="#222" stroke-width="0.8"/>
<line x1="77.68" y1="272.4" x2="77.68" y2="274.3" stroke="#222" stroke-width="0.8"/>
<line x1="79.00" y1="272.4" x2="79.00" y2="274.3" stroke="#222" stroke-width="0.8"/>
<line x1="80.16" y1="272.4" x2="80.16" y2="274.3" stroke="#222" stroke-width="0.8"/>
<line x1="88.03" y1="272.4" x2="88.03" y2="274.3" stroke="#222" stroke-width="0.8"/>
<line x1="92.03" y1="272.4" x2="92.03" y2="274.3" stroke="#222" stroke-width="0.8"/>
<line x1="94.87" y1="272.4" x2="94.87" y2="274.3" stroke="#222" stroke-width="0.8"/>
<line x1="97.07" y1="272.4" x2="97.07" y2="274.3" stroke="#222" stroke-width="0.8"/>
<line x1="98.86" y1="272.4" x2="98.86" y2="274.3" stroke="#222" stroke-width="0.8"/>
<line x1="100.38" y1="272.4" x2="100.38" y2="274.3" stroke="#222" stroke-width="0.8"/>
<line x1="101.70" y1="272.4" x2="101.70" y2="274.3" stroke="#222" stroke-width="0.8"/>
<line x1="102.86" y1="272.4" x2="102.86" y2="274.3" stroke="#222" stroke-width="0.8"/>
<line x1="110.73" y1="272.4" x2="110.73" y2="274.3" stroke="#222" stroke-width="0.8"/>
<line x1="114.73" y1="272.4" x2="114.73" y2="274.3" stroke="#222" stroke-width="0.8"/>
<line x1="117.57" y1="272.4" x2="117.57" y2="274.3" stroke="#222" stroke-width="0.8"/>
<line x1="119.77" y1="272.4" x2="119.77" y2="274.3" stroke="#222" stroke-width="0.8"/>
<line x1="121.56" y1="272.4" x2="121.56" y2="274.3" stroke="#222" stroke-width="0.8"/>
<line x1="123.08" y1="272.4" x2="123.08" y2="274.3" stroke="#222" stroke-width="0.8"/>
<line x1="124.40" y1="272.4" x2="124.40" y2="274.3" stroke="#222" stroke-width="0.8"/>
<line x1="125.56" y1="272.4" x2="125.56" y2="274.3" stroke="#222" stroke-width="0.8"/>
<line x1="35.80" y1="272.4" x2="35.80" y2="275.2" stroke="#111" stroke-width="1"/>
<line x1="58.50" y1="272.4" x2="58.50" y2="275.2" stroke="#111" stroke-width="1"/>
<line x1="81.20" y1="272.4" x2="81.20" y2="275.2" stroke="#111" stroke-width="1"/>
<line x1="103.90" y1="272.4" x2="103.90" y2="275.2" stroke="#111" stroke-width="1"/>
<line x1="126.60" y1="272.4" x2="126.60" y2="275.2" stroke="#111" stroke-width="1"/>
<rect x="35.8" y="181.7" width="90.8" height="90.7" fill="none" stroke="#0a0a0a" stroke-width="1.5"/>
<rect x="76.2" y="197" width="20.3" height="25.1" fill="none" stroke="#222" stroke-width="1"/>
<text x="42.6" y="211.4" class="ax" fill="#444">BMCP</text>
<text x="42.6" y="220.4" class="ax" fill="#444">0.3 %</text>
<text transform="translate(26.9,245.4) rotate(-90)" font-size="8.7" fill="#3a3a3a" textLength="37.4" lengthAdjust="spacingAndGlyphs">Integrin β7</text>
<text x="66.2" y="286.7" font-size="9.4" fill="#444" textLength="30" lengthAdjust="spacingAndGlyphs">CD16/32</text>
<text x="142.5" y="170.3" class="pl" textLength="5.8" lengthAdjust="spacingAndGlyphs">E</text>
<line x1="219.2" y1="174.3" x2="219.2" y2="293.2" stroke="#222" stroke-width="1.3" stroke-dasharray="3.4 1.8"/>
<line x1="255.0" y1="174.3" x2="255.0" y2="293.2" stroke="#222" stroke-width="1.3" stroke-dasharray="3.4 1.8"/>
<line x1="205.9" y1="204.76" x2="205.9" y2="196.44" stroke="#151515" stroke-width="1.2"/>
<line x1="204.1" y1="196.44" x2="207.70000000000002" y2="196.44" stroke="#151515" stroke-width="1.2"/>
<rect x="202.2" y="204.76" width="7.40" height="60.74" fill="#d23c1e"/>
<line x1="214.0" y1="249.28" x2="214.0" y2="240.54" stroke="#151515" stroke-width="1.2"/>
<line x1="212.2" y1="240.54" x2="215.8" y2="240.54" stroke="#151515" stroke-width="1.2"/>
<rect x="210.3" y="249.28" width="7.30" height="16.22" fill="#30288c"/>
<line x1="233.0" y1="246.95" x2="233.0" y2="246.20" stroke="#151515" stroke-width="1.2"/>
<line x1="231.2" y1="246.20" x2="234.8" y2="246.20" stroke="#151515" stroke-width="1.2"/>
<rect x="229.4" y="246.95" width="7.20" height="18.55" fill="#9a9a9a"/>
<rect x="247.8" y="264.34" width="4.00" height="1.16" fill="#333"/>
<line x1="260.6" y1="264.00" x2="260.6" y2="262.34" stroke="#151515" stroke-width="1.2"/>
<line x1="259.20000000000005" y1="262.34" x2="262.0" y2="262.34" stroke="#151515" stroke-width="1.2"/>
<rect x="258.4" y="264.00" width="4.40" height="1.50" fill="#333"/>
<line x1="268.9" y1="219.16" x2="268.9" y2="217.58" stroke="#151515" stroke-width="1.2"/>
<line x1="267.09999999999997" y1="217.58" x2="270.7" y2="217.58" stroke="#151515" stroke-width="1.2"/>
<rect x="265.1" y="219.16" width="7.70" height="46.34" fill="#9a9a9a"/>
<line x1="285" y1="263.00" x2="285" y2="262.26" stroke="#151515" stroke-width="1.2"/>
<line x1="283.75" y1="262.26" x2="286.25" y2="262.26" stroke="#151515" stroke-width="1.2"/>
<rect x="282.2" y="263.00" width="5.50" height="2.50" fill="#30288c"/>
<path d="M181.3 179.6 V265.6 H292.8" fill="none" stroke="#111" stroke-width="1.3"/>
<line x1="178.3" y1="265.50" x2="181.3" y2="265.50" stroke="#111" stroke-width="1"/>
<text x="175.6" y="268.00" class="ax" text-anchor="end">0</text>
<line x1="178.3" y1="248.86" x2="181.3" y2="248.86" stroke="#111" stroke-width="1"/>
<text x="175.6" y="251.36" class="ax" text-anchor="end">20</text>
<line x1="178.3" y1="232.22" x2="181.3" y2="232.22" stroke="#111" stroke-width="1"/>
<text x="175.6" y="234.72" class="ax" text-anchor="end">40</text>
<line x1="178.3" y1="215.58" x2="181.3" y2="215.58" stroke="#111" stroke-width="1"/>
<text x="175.6" y="218.08" class="ax" text-anchor="end">60</text>
<line x1="178.3" y1="198.94" x2="181.3" y2="198.94" stroke="#111" stroke-width="1"/>
<text x="175.6" y="201.44" class="ax" text-anchor="end">80</text>
<line x1="178.3" y1="182.30" x2="181.3" y2="182.30" stroke="#111" stroke-width="1"/>
<text x="175.6" y="184.80" class="ax" text-anchor="end">100</text>
<text transform="translate(157.2,243.3) rotate(-90)" font-size="9.4" fill="#333" textLength="41.2" lengthAdjust="spacingAndGlyphs">Cell type (%)</text>
<rect x="295.8" y="200.1" width="7" height="7" fill="#0a0a0a"/>
<text x="306.2" y="206.1" class="ax">Eo</text>
<rect x="295.8" y="212.5" width="7" height="7" fill="#9a9a9a"/>
<text x="306.2" y="218.5" class="ax">N</text>
<rect x="295.8" y="224.8" width="7" height="7" fill="#d23c1e"/>
<text x="306.2" y="230.8" class="ax">MC</text>
<rect x="295.8" y="237.2" width="7" height="7" fill="#30288c"/>
<text x="306.2" y="243.2" class="ax">Ba</text>
<text x="158.7" y="277.2" class="ax">Days</text>
<text x="203.4" y="277.3" class="ax" text-anchor="middle">5</text>
<text x="191.7" y="285.4" class="ax" textLength="22.5" lengthAdjust="spacingAndGlyphs">BMCP</text>
<text x="236.9" y="277.3" class="ax" text-anchor="middle">5</text>
<text x="231.6" y="285.4" class="ax" textLength="11.3" lengthAdjust="spacingAndGlyphs">MP</text>
<text x="272.6" y="277.3" class="ax" text-anchor="middle">5</text>
<text x="263.6" y="285.4" class="ax" textLength="18.2" lengthAdjust="spacingAndGlyphs">GMP</text>
<text x="333.7" y="170.3" class="pl" textLength="6" lengthAdjust="spacingAndGlyphs">F</text>
<line x1="400.2" y1="174.3" x2="400.2" y2="293.2" stroke="#222" stroke-width="1.2" stroke-dasharray="3.4 1.8"/>
<rect x="379.3" y="214.83" width="16.50" height="52.17" fill="#d23c1e"/>
<rect x="379.3" y="190.29" width="16.50" height="24.54" fill="#30288c"/>
<rect x="379.3" y="184.47" width="16.50" height="5.82" fill="#c052a4"/>
<rect x="404.5" y="218.08" width="16.50" height="48.92" fill="#9a9a9a"/>
<rect x="404.5" y="193.70" width="16.50" height="24.38" fill="#30288c"/>
<rect x="404.5" y="188.46" width="16.50" height="5.24" fill="#f0e418"/>
<rect x="404.5" y="184.47" width="16.50" height="3.99" fill="#3c3c3c"/>
<path d="M370.3 182.8 V267 H429.7" fill="none" stroke="#111" stroke-width="1.3"/>
<line x1="367.4" y1="267.00" x2="370.3" y2="267.00" stroke="#111" stroke-width="1"/>
<text x="365.2" y="269.50" class="ax" text-anchor="end">0</text>
<line x1="367.4" y1="250.36" x2="370.3" y2="250.36" stroke="#111" stroke-width="1"/>
<text x="365.2" y="252.86" class="ax" text-anchor="end">20</text>
<line x1="367.4" y1="233.72" x2="370.3" y2="233.72" stroke="#111" stroke-width="1"/>
<text x="365.2" y="236.22" class="ax" text-anchor="end">40</text>
<line x1="367.4" y1="217.08" x2="370.3" y2="217.08" stroke="#111" stroke-width="1"/>
<text x="365.2" y="219.58" class="ax" text-anchor="end">60</text>
<line x1="367.4" y1="200.44" x2="370.3" y2="200.44" stroke="#111" stroke-width="1"/>
<text x="365.2" y="202.94" class="ax" text-anchor="end">80</text>
<line x1="367.4" y1="183.80" x2="370.3" y2="183.80" stroke="#111" stroke-width="1"/>
<text x="365.2" y="186.30" class="ax" text-anchor="end">100</text>
<text transform="translate(347.6,252.6) rotate(-90)" font-size="9.4" fill="#333" textLength="50.9" lengthAdjust="spacingAndGlyphs">Colony type (%)</text>
<text x="387" y="181.1" class="ax" text-anchor="middle">79</text>
<text x="411.6" y="181.1" class="ax" text-anchor="middle">17</text>
<rect x="432.3" y="199.3" width="4.2" height="4.2" fill="#c052a4"/>
<text x="439.5" y="203.9" class="ax">MC-Ba</text>
<rect x="432.3" y="208.6" width="4.2" height="4.2" fill="#3c3c3c"/>
<text x="439.5" y="213.2" class="ax">Eo-Ba</text>
<rect x="432.3" y="218.0" width="4.2" height="4.2" fill="#f0e418"/>
<text x="439.5" y="222.6" class="ax">Eo-N</text>
<rect x="432.3" y="226.70000000000002" width="4.2" height="4.2" fill="#30288c"/>
<text x="439.5" y="231.3" class="ax">Ba</text>
<rect x="432.3" y="235.3" width="4.2" height="4.2" fill="#d23c1e"/>
<text x="439.5" y="239.9" class="ax">MC</text>
<rect x="432.3" y="243.70000000000002" width="4.2" height="4.2" fill="#9a9a9a"/>
<text x="439.5" y="248.3" class="ax">N</text>
<text x="349.3" y="276.7" class="ax">Days</text>
<text x="387" y="277.2" class="ax" text-anchor="middle">5</text>
<text x="376" y="285.5" class="ax" textLength="21.7" lengthAdjust="spacingAndGlyphs">BMCP</text>
<text x="413" y="277.2" class="ax" text-anchor="middle">5</text>
<text x="407" y="285.5" class="ax" textLength="12" lengthAdjust="spacingAndGlyphs">MP</text>
<rect x="0" y="1" width="520" height="1" fill="#969696"/>
<rect x="1" y="0" width="1" height="300" fill="#8c8c8c"/>
<rect x="518" y="0" width="1" height="300" fill="#787878"/>
<rect x="0" y="298" width="520" height="1" fill="#5a5a5a"/>
<rect x="0" y="0" width="520" height="1" fill="#000"/>
<rect x="0" y="0" width="1" height="300" fill="#000"/>
<rect x="519" y="0" width="1" height="300" fill="#000"/>
<rect x="0" y="299" width="520" height="1" fill="#000"/>
</svg>
</body></html>
